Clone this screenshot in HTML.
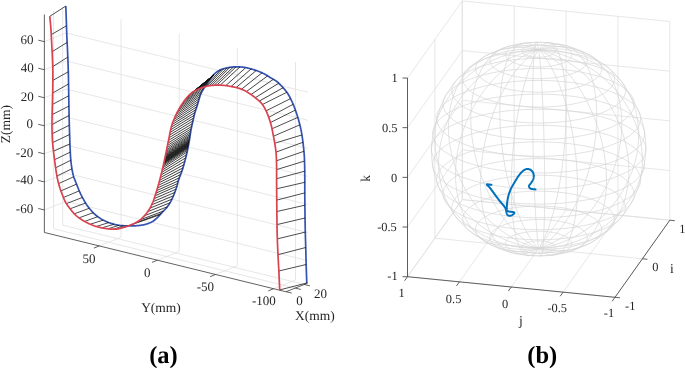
<!DOCTYPE html>
<html><head><meta charset="utf-8"><style>
html,body{margin:0;padding:0;background:#fff;width:685px;height:368px;overflow:hidden}
svg{display:block}
text{font-family:"Liberation Serif",serif;fill:#262626;text-rendering:geometricPrecision}
</style></head><body>
<svg width="685" height="368" viewBox="0 0 685 368">
<defs><filter id="nf" x="0" y="0" width="685" height="368" filterUnits="userSpaceOnUse"><feOffset dx="0" dy="0"/></filter></defs>
<line x1="121.06" y1="237.23" x2="121.06" y2="19.23" stroke="#dcdcdc" stroke-width="0.7"/>
<line x1="179.2" y1="251.5" x2="179.2" y2="33.49" stroke="#dcdcdc" stroke-width="0.7"/>
<line x1="237.34" y1="265.76" x2="237.34" y2="47.76" stroke="#dcdcdc" stroke-width="0.7"/>
<line x1="295.47" y1="280.03" x2="295.47" y2="62.02" stroke="#dcdcdc" stroke-width="0.7"/>
<line x1="307.79" y1="260.55" x2="66.19" y2="201.27" stroke="#dcdcdc" stroke-width="0.7"/>
<line x1="307.79" y1="232.5" x2="66.19" y2="173.22" stroke="#dcdcdc" stroke-width="0.7"/>
<line x1="307.79" y1="204.45" x2="66.19" y2="145.17" stroke="#dcdcdc" stroke-width="0.7"/>
<line x1="307.79" y1="176.4" x2="66.19" y2="117.12" stroke="#dcdcdc" stroke-width="0.7"/>
<line x1="307.79" y1="148.35" x2="66.19" y2="89.07" stroke="#dcdcdc" stroke-width="0.7"/>
<line x1="307.79" y1="120.3" x2="66.19" y2="61.02" stroke="#dcdcdc" stroke-width="0.7"/>
<line x1="307.79" y1="92.25" x2="66.19" y2="32.97" stroke="#dcdcdc" stroke-width="0.7"/>
<line x1="53.59" y1="228.79" x2="53.59" y2="10.79" stroke="#dcdcdc" stroke-width="0.7"/>
<line x1="62.68" y1="225.17" x2="62.68" y2="7.16" stroke="#dcdcdc" stroke-width="0.7"/>
<line x1="44.39" y1="209.97" x2="66.19" y2="201.27" stroke="#dcdcdc" stroke-width="0.7"/>
<line x1="44.39" y1="181.92" x2="66.19" y2="173.22" stroke="#dcdcdc" stroke-width="0.7"/>
<line x1="44.39" y1="153.87" x2="66.19" y2="145.17" stroke="#dcdcdc" stroke-width="0.7"/>
<line x1="44.39" y1="125.82" x2="66.19" y2="117.12" stroke="#dcdcdc" stroke-width="0.7"/>
<line x1="44.39" y1="97.77" x2="66.19" y2="89.07" stroke="#dcdcdc" stroke-width="0.7"/>
<line x1="44.39" y1="69.72" x2="66.19" y2="61.02" stroke="#dcdcdc" stroke-width="0.7"/>
<line x1="44.39" y1="41.67" x2="66.19" y2="32.97" stroke="#dcdcdc" stroke-width="0.7"/>
<line x1="99.27" y1="245.93" x2="121.06" y2="237.23" stroke="#dcdcdc" stroke-width="0.7"/>
<line x1="157.4" y1="260.2" x2="179.2" y2="251.5" stroke="#dcdcdc" stroke-width="0.7"/>
<line x1="215.54" y1="274.46" x2="237.34" y2="265.76" stroke="#dcdcdc" stroke-width="0.7"/>
<line x1="273.67" y1="288.73" x2="295.47" y2="280.03" stroke="#dcdcdc" stroke-width="0.7"/>
<line x1="295.19" y1="288.08" x2="53.59" y2="228.79" stroke="#dcdcdc" stroke-width="0.7"/>
<line x1="304.28" y1="284.45" x2="62.68" y2="225.17" stroke="#dcdcdc" stroke-width="0.7"/>
<line x1="44.39" y1="232.46" x2="44.39" y2="14.46" stroke="#3a3a3a" stroke-width="0.8"/>
<line x1="285.99" y1="291.75" x2="44.39" y2="232.46" stroke="#3a3a3a" stroke-width="0.8"/>
<line x1="285.99" y1="291.75" x2="307.79" y2="283.05" stroke="#3a3a3a" stroke-width="0.8"/>
<line x1="44.39" y1="209.97" x2="38.27" y2="208.47" stroke="#3a3a3a" stroke-width="0.8"/>
<line x1="44.39" y1="181.92" x2="38.27" y2="180.42" stroke="#3a3a3a" stroke-width="0.8"/>
<line x1="44.39" y1="153.87" x2="38.27" y2="152.37" stroke="#3a3a3a" stroke-width="0.8"/>
<line x1="44.39" y1="125.82" x2="38.27" y2="124.32" stroke="#3a3a3a" stroke-width="0.8"/>
<line x1="44.39" y1="97.77" x2="38.27" y2="96.27" stroke="#3a3a3a" stroke-width="0.8"/>
<line x1="44.39" y1="69.72" x2="38.27" y2="68.22" stroke="#3a3a3a" stroke-width="0.8"/>
<line x1="44.39" y1="41.67" x2="38.27" y2="40.17" stroke="#3a3a3a" stroke-width="0.8"/>
<line x1="99.27" y1="245.93" x2="93.88" y2="248.08" stroke="#3a3a3a" stroke-width="0.8"/>
<line x1="157.4" y1="260.2" x2="152.01" y2="262.35" stroke="#3a3a3a" stroke-width="0.8"/>
<line x1="215.54" y1="274.46" x2="210.15" y2="276.61" stroke="#3a3a3a" stroke-width="0.8"/>
<line x1="273.67" y1="288.73" x2="268.28" y2="290.88" stroke="#3a3a3a" stroke-width="0.8"/>
<line x1="286.1" y1="291.71" x2="291.74" y2="293.09" stroke="#3a3a3a" stroke-width="0.8"/>
<line x1="295.19" y1="288.08" x2="300.83" y2="289.46" stroke="#3a3a3a" stroke-width="0.8"/>
<line x1="304.28" y1="284.45" x2="309.92" y2="285.83" stroke="#3a3a3a" stroke-width="0.8"/>
<path d="M65.8,6.1 L65.83,6.92 L65.87,7.97 L65.91,9.21 L65.96,10.61 L66.02,12.11 L66.08,13.69 L66.13,15.31 L66.19,16.93 L66.25,18.5 L66.3,20 L66.35,21.46 L66.4,22.93 L66.44,24.42 L66.49,25.92 L66.54,27.43 L66.59,28.95 L66.64,30.47 L66.69,31.98 L66.74,33.5 L66.8,35 L66.86,36.5 L66.93,38 L67,39.5 L67.07,41 L67.14,42.5 L67.22,44 L67.29,45.5 L67.36,47 L67.43,48.5 L67.5,50 L67.56,51.5 L67.63,53 L67.69,54.5 L67.76,56 L67.82,57.5 L67.88,59 L67.94,60.5 L67.99,62 L68.05,63.5 L68.1,65 L68.15,66.48 L68.19,67.92 L68.24,69.34 L68.28,70.76 L68.32,72.19 L68.36,73.64 L68.39,75.13 L68.43,76.68 L68.46,78.3 L68.5,80 L68.53,81.8 L68.56,83.68 L68.59,85.63 L68.62,87.64 L68.65,89.69 L68.68,91.76 L68.71,93.84 L68.74,95.92 L68.77,97.98 L68.8,100 L68.84,102 L68.87,104 L68.91,106 L68.94,108 L68.98,110 L69.02,112 L69.06,114 L69.11,116 L69.15,118 L69.2,120 L69.25,122.02 L69.31,124.07 L69.36,126.13 L69.42,128.2 L69.48,130.26 L69.54,132.3 L69.61,134.3 L69.67,136.26 L69.74,138.17 L69.8,140 L69.86,141.78 L69.93,143.52 L69.99,145.23 L70.05,146.9 L70.12,148.53 L70.19,150.1 L70.26,151.63 L70.33,153.11 L70.41,154.53 L70.5,155.9 L70.59,157.19 L70.68,158.41 L70.78,159.56 L70.87,160.66 L70.98,161.71 L71.08,162.73 L71.2,163.73 L71.32,164.72 L71.46,165.7 L71.6,166.7 L71.75,167.7 L71.91,168.68 L72.08,169.64 L72.25,170.59 L72.43,171.52 L72.62,172.45 L72.82,173.35 L73.04,174.25 L73.26,175.13 L73.5,176 L73.76,176.85 L74.03,177.69 L74.32,178.51 L74.62,179.32 L74.93,180.11 L75.25,180.9 L75.57,181.68 L75.88,182.45 L76.2,183.23 L76.5,184 L76.8,184.77 L77.09,185.54 L77.38,186.3 L77.68,187.06 L77.97,187.81 L78.26,188.56 L78.56,189.3 L78.87,190.04 L79.18,190.77 L79.5,191.5 L79.83,192.22 L80.16,192.93 L80.49,193.64 L80.83,194.34 L81.17,195.03 L81.53,195.72 L81.88,196.42 L82.25,197.11 L82.62,197.8 L83,198.5 L83.38,199.2 L83.76,199.9 L84.15,200.59 L84.54,201.29 L84.94,201.98 L85.35,202.68 L85.78,203.38 L86.23,204.08 L86.7,204.79 L87.2,205.5 L87.73,206.23 L88.3,206.98 L88.89,207.74 L89.5,208.51 L90.13,209.28 L90.77,210.03 L91.41,210.77 L92.05,211.48 L92.68,212.16 L93.3,212.8 L93.9,213.4 L94.5,213.96 L95.09,214.5 L95.68,215.01 L96.27,215.51 L96.87,215.98 L97.47,216.45 L98.1,216.9 L98.74,217.35 L99.4,217.8 L100.08,218.25 L100.78,218.68 L101.49,219.11 L102.21,219.53 L102.95,219.94 L103.7,220.33 L104.46,220.72 L105.23,221.09 L106.01,221.45 L106.8,221.8 L107.61,222.14 L108.46,222.47 L109.33,222.78 L110.21,223.09 L111.09,223.39 L111.98,223.67 L112.85,223.93 L113.7,224.17 L114.52,224.4 L115.3,224.6 L116.04,224.78 L116.76,224.93 L117.45,225.06 L118.11,225.17 L118.77,225.26 L119.41,225.34 L120.05,225.42 L120.7,225.48 L121.34,225.54 L122,225.6 L122.66,225.65 L123.32,225.69 L123.98,225.73 L124.64,225.75 L125.29,225.76 L125.95,225.77 L126.61,225.78 L127.27,225.79 L127.93,225.79 L128.6,225.8 L129.27,225.81 L129.95,225.82 L130.63,225.84 L131.31,225.85 L131.99,225.86 L132.67,225.86 L133.35,225.86 L134.04,225.85 L134.72,225.83 L135.4,225.8 L136.09,225.76 L136.8,225.71 L137.51,225.65 L138.23,225.59 L138.94,225.52 L139.65,225.44 L140.33,225.36 L140.99,225.28 L141.61,225.19 L142.2,225.1 L142.75,225.01 L143.26,224.91 L143.74,224.81 L144.2,224.7 L144.64,224.59 L145.06,224.48 L145.47,224.36 L145.88,224.25 L146.29,224.12 L146.7,224 L147.11,223.88 L147.51,223.75 L147.9,223.62 L148.28,223.5 L148.66,223.36 L149.04,223.22 L149.4,223.08 L149.77,222.93 L150.14,222.77 L150.5,222.6 L150.86,222.42 L151.22,222.23 L151.58,222.04 L151.94,221.84 L152.29,221.63 L152.64,221.42 L152.98,221.2 L153.32,220.97 L153.66,220.74 L154,220.5 L154.33,220.26 L154.66,220.01 L154.99,219.75 L155.31,219.49 L155.63,219.22 L155.95,218.94 L156.26,218.67 L156.58,218.38 L156.89,218.09 L157.2,217.8 L157.51,217.5 L157.81,217.2 L158.11,216.88 L158.41,216.57 L158.71,216.24 L159,215.92 L159.3,215.59 L159.6,215.26 L159.9,214.93 L160.2,214.6 L160.5,214.27 L160.81,213.94 L161.11,213.6 L161.42,213.26 L161.72,212.92 L162.03,212.58 L162.34,212.24 L162.66,211.9 L162.98,211.55 L163.3,211.2 L163.63,210.85 L163.96,210.51 L164.3,210.17 L164.64,209.83 L164.99,209.48 L165.33,209.13 L165.68,208.77 L166.02,208.39 L166.36,208.01 L166.7,207.6 L167.04,207.18 L167.37,206.75 L167.71,206.31 L168.05,205.85 L168.38,205.39 L168.71,204.91 L169.04,204.43 L169.37,203.93 L169.69,203.42 L170,202.9 L170.31,202.36 L170.62,201.81 L170.92,201.24 L171.22,200.65 L171.51,200.06 L171.8,199.47 L172.09,198.87 L172.36,198.27 L172.64,197.68 L172.9,197.1 L173.16,196.53 L173.4,195.95 L173.65,195.38 L173.88,194.81 L174.11,194.24 L174.34,193.68 L174.56,193.11 L174.78,192.54 L174.99,191.97 L175.2,191.4 L175.41,190.83 L175.61,190.26 L175.81,189.69 L176.01,189.12 L176.2,188.55 L176.39,187.98 L176.57,187.41 L176.75,186.84 L176.93,186.27 L177.1,185.7 L177.26,185.15 L177.39,184.63 L177.51,184.13 L177.62,183.63 L177.74,183.12 L177.86,182.59 L178,182.03 L178.17,181.42 L178.36,180.74 L178.6,180 L178.89,179.16 L179.22,178.23 L179.6,177.23 L179.99,176.18 L180.41,175.11 L180.82,174.02 L181.23,172.94 L181.62,171.9 L181.98,170.91 L182.3,170 L182.58,169.17 L182.83,168.41 L183.05,167.7 L183.26,167.02 L183.46,166.36 L183.66,165.69 L183.85,165 L184.05,164.26 L184.27,163.47 L184.5,162.6 L184.75,161.65 L185.02,160.64 L185.29,159.58 L185.57,158.49 L185.86,157.36 L186.14,156.22 L186.42,155.07 L186.69,153.93 L186.95,152.8 L187.2,151.7 L187.44,150.62 L187.66,149.54 L187.89,148.46 L188.1,147.38 L188.31,146.3 L188.52,145.22 L188.72,144.14 L188.92,143.06 L189.11,141.98 L189.3,140.9 L189.49,139.8 L189.67,138.67 L189.84,137.53 L190.01,136.38 L190.18,135.24 L190.35,134.11 L190.51,133.02 L190.67,131.96 L190.84,130.95 L191,130 L191.16,129.13 L191.32,128.33 L191.47,127.59 L191.62,126.89 L191.77,126.21 L191.92,125.54 L192.08,124.86 L192.24,124.16 L192.42,123.41 L192.6,122.6 L192.79,121.73 L193,120.81 L193.2,119.86 L193.42,118.88 L193.64,117.89 L193.86,116.9 L194.09,115.91 L194.32,114.94 L194.56,114 L194.8,113.1 L195.04,112.24 L195.29,111.4 L195.55,110.59 L195.81,109.79 L196.08,109.01 L196.34,108.22 L196.61,107.44 L196.87,106.64 L197.14,105.83 L197.4,105 L197.66,104.13 L197.93,103.21 L198.21,102.27 L198.48,101.31 L198.75,100.36 L199.02,99.43 L199.28,98.53 L199.53,97.68 L199.77,96.9 L200,96.2 L200.21,95.58 L200.41,95.03 L200.6,94.54 L200.78,94.09 L200.95,93.69 L201.12,93.31 L201.29,92.95 L201.45,92.6 L201.62,92.26 L201.8,91.9 L201.98,91.55 L202.16,91.22 L202.34,90.9 L202.52,90.61 L202.71,90.32 L202.89,90.04 L203.07,89.76 L203.25,89.48 L203.42,89.19 L203.6,88.9 L203.77,88.6 L203.94,88.31 L204.1,88.02 L204.25,87.72 L204.41,87.43 L204.57,87.14 L204.74,86.84 L204.92,86.53 L205.1,86.22 L205.3,85.9 L205.51,85.57 L205.73,85.24 L205.95,84.91 L206.18,84.57 L206.42,84.23 L206.66,83.87 L206.91,83.52 L207.17,83.15 L207.43,82.78 L207.7,82.4 L207.98,82 L208.27,81.59 L208.57,81.15 L208.88,80.71 L209.19,80.27 L209.5,79.83 L209.81,79.39 L210.12,78.97 L210.41,78.57 L210.7,78.2 L210.97,77.85 L211.23,77.53 L211.47,77.22 L211.72,76.93 L211.96,76.65 L212.2,76.37 L212.45,76.09 L212.72,75.81 L213,75.51 L213.3,75.2 L213.62,74.87 L213.95,74.53 L214.29,74.18 L214.64,73.83 L215,73.47 L215.37,73.12 L215.76,72.77 L216.16,72.44 L216.57,72.11 L217,71.8 L217.44,71.5 L217.9,71.21 L218.37,70.93 L218.86,70.65 L219.36,70.38 L219.87,70.12 L220.39,69.87 L220.92,69.64 L221.45,69.41 L222,69.2 L222.57,69 L223.19,68.81 L223.83,68.64 L224.49,68.47 L225.14,68.32 L225.79,68.18 L226.41,68.04 L227,67.92 L227.53,67.8 L228,67.7 L228.39,67.61 L228.69,67.53 L228.93,67.47 L229.14,67.42 L229.32,67.38 L229.5,67.34 L229.71,67.31 L229.97,67.28 L230.29,67.24 L230.7,67.2 L231.19,67.15 L231.74,67.1 L232.34,67.04 L232.98,66.98 L233.66,66.93 L234.35,66.88 L235.06,66.84 L235.78,66.81 L236.5,66.8 L237.2,66.8 L237.91,66.82 L238.64,66.84 L239.38,66.88 L240.14,66.92 L240.9,66.98 L241.66,67.05 L242.42,67.12 L243.16,67.21 L243.89,67.3 L244.6,67.4 L245.29,67.51 L245.96,67.63 L246.62,67.76 L247.26,67.91 L247.91,68.06 L248.54,68.21 L249.18,68.38 L249.81,68.55 L250.45,68.72 L251.1,68.9 L251.75,69.08 L252.4,69.27 L253.05,69.46 L253.7,69.66 L254.35,69.87 L255,70.08 L255.65,70.3 L256.3,70.53 L256.95,70.76 L257.6,71 L258.25,71.25 L258.9,71.5 L259.55,71.75 L260.2,72.01 L260.84,72.28 L261.49,72.56 L262.14,72.85 L262.79,73.15 L263.45,73.47 L264.1,73.8 L264.76,74.15 L265.42,74.53 L266.09,74.92 L266.76,75.33 L267.43,75.74 L268.09,76.16 L268.75,76.58 L269.41,77 L270.06,77.41 L270.7,77.8 L271.33,78.17 L271.96,78.53 L272.58,78.88 L273.2,79.22 L273.81,79.56 L274.41,79.9 L275.02,80.27 L275.61,80.65 L276.21,81.06 L276.8,81.5 L277.39,81.97 L277.97,82.47 L278.56,82.99 L279.13,83.52 L279.71,84.08 L280.28,84.64 L280.84,85.22 L281.4,85.81 L281.95,86.4 L282.5,87 L283.05,87.6 L283.59,88.22 L284.13,88.84 L284.67,89.47 L285.2,90.11 L285.72,90.77 L286.24,91.43 L286.74,92.11 L287.23,92.8 L287.7,93.5 L288.16,94.22 L288.6,94.96 L289.04,95.71 L289.46,96.47 L289.87,97.25 L290.27,98.03 L290.66,98.82 L291.05,99.62 L291.43,100.41 L291.8,101.2 L292.16,101.99 L292.51,102.77 L292.85,103.55 L293.18,104.33 L293.51,105.12 L293.83,105.92 L294.14,106.73 L294.46,107.56 L294.78,108.42 L295.1,109.3 L295.43,110.21 L295.76,111.15 L296.09,112.12 L296.42,113.1 L296.75,114.09 L297.08,115.1 L297.39,116.11 L297.71,117.11 L298.01,118.11 L298.3,119.1 L298.58,120.08 L298.86,121.07 L299.13,122.06 L299.39,123.05 L299.65,124.04 L299.9,125.03 L300.14,126.01 L300.37,126.98 L300.59,127.95 L300.8,128.9 L301,129.84 L301.19,130.77 L301.36,131.68 L301.53,132.6 L301.69,133.5 L301.84,134.4 L301.99,135.3 L302.13,136.2 L302.26,137.1 L302.4,138 L302.53,138.9 L302.66,139.81 L302.78,140.71 L302.89,141.61 L303,142.51 L303.11,143.4 L303.21,144.3 L303.31,145.2 L303.4,146.1 L303.5,147 L303.59,147.89 L303.69,148.76 L303.77,149.62 L303.86,150.48 L303.94,151.34 L304.02,152.21 L304.1,153.11 L304.17,154.03 L304.24,154.99 L304.3,156 L304.36,157.05 L304.41,158.13 L304.46,159.24 L304.5,160.38 L304.54,161.54 L304.58,162.73 L304.61,163.93 L304.65,165.14 L304.67,166.37 L304.7,167.6 L304.72,168.84 L304.74,170.1 L304.76,171.38 L304.77,172.67 L304.77,173.98 L304.78,175.3 L304.79,176.63 L304.79,177.98 L304.8,179.33 L304.8,180.7 L304.8,182.06 L304.8,183.39 L304.8,184.72 L304.8,186.06 L304.79,187.42 L304.79,188.81 L304.79,190.25 L304.79,191.76 L304.79,193.33 L304.8,195 L304.81,196.78 L304.83,198.68 L304.84,200.68 L304.86,202.73 L304.88,204.83 L304.9,206.94 L304.93,209.04 L304.95,211.1 L304.98,213.1 L305,215 L305.03,216.82 L305.05,218.58 L305.08,220.29 L305.1,221.97 L305.13,223.62 L305.16,225.27 L305.19,226.92 L305.23,228.58 L305.26,230.27 L305.3,232 L305.34,233.77 L305.39,235.57 L305.44,237.39 L305.49,239.22 L305.54,241.06 L305.6,242.9 L305.65,244.72 L305.7,246.51 L305.75,248.28 L305.8,250 L305.84,251.68 L305.88,253.31 L305.92,254.92 L305.96,256.5 L305.99,258.06 L306.03,259.62 L306.07,261.19 L306.11,262.77 L306.15,264.37 L306.2,266 L306.25,267.74 L306.32,269.61 L306.38,271.56 L306.45,273.54 L306.52,275.5 L306.59,277.38 L306.66,279.12 L306.72,280.67 L306.76,281.98 L306.8,283" stroke="#3553b0" stroke-width="1.7" fill="none" stroke-linejoin="round"/>
<path d="M49.8,16.3L65.8,6.1 M51.27,34.64L66.49,25.79 M52.14,51.73L67.14,42.39 M52.73,66.61L67.8,57.1 M52.84,80.4L68.31,71.79 M52.66,92.99L68.57,83.99 M52.38,104.49L68.73,95.79 M52.11,114.6L68.91,106.1 M51.98,124.7L69.09,115.4 M52.13,133.8L69.34,125.21 M52.58,142.61L69.61,134.52 M53.44,151.25L69.94,143.93 M54.52,159.74L70.28,152.11 M55.62,167.84L70.83,160.22 M56.91,176.02L71.93,168.76 M58.62,183.62L73.72,176.73 M60.91,190.9L76.55,184.12 M63.41,197.48L79.23,190.89 M66.42,203.64L82.43,197.44 M70.11,208.8L85.55,203.01 M74.34,213.83L89.29,208.25 M79.04,217.85L93.2,212.7 M84.65,221.46L97.75,216.65 M90.2,224.23L103.28,220.11 M96.29,226.48L108.78,222.59 M101.87,227.85L114.08,224.28 M108.01,228.82L119,225.29 M114.1,229.14L123.3,225.69 M119.49,228.56L126.6,225.78 M124.38,227.16L128.3,225.8 M262.41,104.49L286.84,92.25 M266.1,110.81L290.56,98.62 M268.73,117.31L293.16,104.27 M270.43,122.52L295.39,110.1 M272.01,128.77L297.8,117.41 M273.47,136.21L299.85,124.84 M274.75,143.24L301.93,134.95 M275.99,152.13L302.97,142.27 M276.47,160.81L303.94,151.28 M276.62,169.6L304.53,161.09 M276.6,178.7L304.75,171.19 M276.65,188.8L304.8,182.3 M276.75,200.1L304.79,192.9 M276.86,211.5L304.89,205.19 M277.01,224.6L305.04,218 M277.32,238.89L305.3,232.1 M277.99,254.71L305.73,247.5 M278.85,271L306.16,264.5 M279.7,289.9L306.8,283" stroke="#111" stroke-width="0.75" fill="none"/>
<path d="M129.55,225.43L160.15,214.66 M135.05,223.03L161.24,213.46 M140.12,219.84L163.49,211 M144.48,215.73L167.35,206.77 M147.63,211.76L170.1,202.72 M149.91,208.2L171.95,199.16 M151.67,204.84L173.51,195.71 M153.02,201.7L174.81,192.44 M154.11,198.67L175.97,189.24 M155.09,195.73L176.96,186.16 M155.93,193.17L177.64,183.55 M156.73,190.59L178.32,180.9 M157.49,188L179.38,177.82 M158.24,185.4L180.63,174.53 M158.96,182.8L181.88,171.2 M159.66,180.19L182.99,167.89 M160.34,177.58L183.95,164.64 M161.01,174.96L184.87,161.2 M161.64,172.45L185.73,157.86 M162.22,170.09L186.5,154.74 M162.73,167.94L187.15,151.91 M163.13,166.21L187.55,150.09 M163.44,164.82L187.83,148.72 M163.66,163.8L188.03,147.71 M163.82,163.07L188.18,147 M163.94,162.52L188.28,146.45 M164.06,161.96L188.39,145.9 M164.18,161.4L188.49,145.35 M164.29,160.84L188.6,144.8 M164.41,160.29L188.7,144.26 M164.53,159.73L188.8,143.71 M164.64,159.17L188.9,143.17 M164.76,158.62L188.99,142.62 M164.87,158.06L189.09,142.08 M165,157.47L189.19,141.5 M165.14,156.78L189.31,140.82 M165.31,155.98L189.44,140.04 M165.5,155.05L189.59,139.15 M165.72,153.98L189.75,138.12 M165.98,152.74L189.93,136.96 M166.28,151.29L190.11,135.75 M166.63,149.62L190.31,134.36 M167.02,147.68L190.55,132.74 M167.48,145.46L190.85,130.86 M167.98,143.03L191.23,128.77 M168.52,140.39L191.72,126.45 M169.05,137.74L192.35,123.68 M169.55,135.09L192.98,120.87 M170.06,132.44L193.6,118.07 M170.61,129.79L194.24,115.28 M171.25,127.17L194.96,112.53 M172.03,124.59L195.84,109.7 M172.92,122.04L196.83,106.77 M173.92,119.53L197.69,104.02 M174.97,117.04L198.45,101.41 M176.08,114.58L199.17,98.9 M177.28,112.16L199.91,96.49 M178.56,109.78L200.78,94.1 M179.91,107.45L201.97,91.57 M181.33,105.15L203.74,88.66 M182.82,102.9L205.22,86.04 M184.37,100.69L207.17,83.15 M186.03,98.56L213.8,75 M186.93,97.49L213.8,75 M187.87,96.45L213.8,75 M188.85,95.45L213.8,75 M189.86,94.48L213.8,75 M190.91,93.56L213.8,75 M192.02,92.7L213.8,75 M193.16,91.89L213.8,75 M194.36,91.16L213.8,75 M195.59,90.49L213.8,75 M196.84,89.87L213.8,75 M198.11,89.29L213.8,75 M199.4,88.73L213.8,75 M200.7,88.21L213.8,75 M202.01,87.73L213.8,75 M203.34,87.28L213.8,75 M205.5,86.6L220.93,69.63 M207.2,86.14L223.88,68.62 M209.4,85.72L227.25,67.86 M211.8,85.43L229.95,67.28 M214.2,85.24L233.45,66.95 M216.8,85.12L236.07,66.81 M220.2,85.14L240,66.92 M225.8,85.6L245.79,67.6 M231.1,86.52L251.12,68.91 M236.2,87.52L256.22,70.5 M241.5,89.22L262.02,72.8 M246.4,91.59L267.63,75.87 M251,94.53L273.38,79.32 M255.3,97.72L278.76,83.18 M259.3,101.07L283.14,87.71" stroke="#111" stroke-width="0.8" fill="none"/>
<path d="M49.8,16.3 L49.87,17.12 L49.97,18.19 L50.09,19.46 L50.22,20.88 L50.36,22.4 L50.51,23.98 L50.65,25.58 L50.78,27.15 L50.9,28.64 L51,30 L51.08,31.26 L51.16,32.49 L51.22,33.69 L51.28,34.87 L51.33,36.04 L51.38,37.21 L51.43,38.38 L51.48,39.56 L51.54,40.77 L51.6,42 L51.67,43.25 L51.74,44.5 L51.81,45.76 L51.88,47.03 L51.96,48.31 L52.03,49.61 L52.1,50.92 L52.17,52.26 L52.24,53.61 L52.3,55 L52.36,56.42 L52.42,57.87 L52.48,59.35 L52.54,60.86 L52.59,62.38 L52.65,63.9 L52.69,65.44 L52.74,66.97 L52.77,68.49 L52.8,70 L52.82,71.5 L52.84,73 L52.85,74.5 L52.85,76 L52.85,77.5 L52.85,79 L52.84,80.5 L52.83,82 L52.81,83.5 L52.8,85 L52.78,86.5 L52.76,88 L52.74,89.5 L52.71,91 L52.67,92.5 L52.64,94 L52.61,95.5 L52.57,97 L52.54,98.5 L52.5,100 L52.46,101.51 L52.42,103.03 L52.38,104.56 L52.33,106.1 L52.29,107.62 L52.24,109.14 L52.2,110.65 L52.16,112.13 L52.13,113.58 L52.1,115 L52.08,116.39 L52.05,117.74 L52.03,119.08 L52.01,120.39 L52,121.69 L51.99,122.97 L51.98,124.24 L51.98,125.5 L51.99,126.75 L52,128 L52.02,129.25 L52.04,130.5 L52.07,131.74 L52.1,132.97 L52.14,134.19 L52.18,135.39 L52.23,136.58 L52.28,137.74 L52.34,138.89 L52.4,140 L52.47,141.09 L52.55,142.16 L52.63,143.21 L52.72,144.24 L52.81,145.25 L52.91,146.24 L53.01,147.21 L53.11,148.16 L53.2,149.09 L53.3,150 L53.4,150.88 L53.49,151.71 L53.59,152.52 L53.68,153.3 L53.78,154.06 L53.88,154.82 L53.98,155.59 L54.09,156.37 L54.19,157.17 L54.3,158 L54.41,158.86 L54.52,159.73 L54.64,160.61 L54.75,161.5 L54.87,162.41 L54.99,163.32 L55.11,164.23 L55.24,165.15 L55.37,166.08 L55.5,167 L55.64,167.93 L55.77,168.88 L55.91,169.84 L56.05,170.81 L56.2,171.78 L56.35,172.75 L56.5,173.71 L56.66,174.66 L56.83,175.59 L57,176.5 L57.18,177.4 L57.36,178.28 L57.55,179.16 L57.74,180.02 L57.94,180.88 L58.14,181.72 L58.35,182.56 L58.56,183.38 L58.78,184.19 L59,185 L59.22,185.78 L59.45,186.54 L59.68,187.28 L59.91,188 L60.14,188.72 L60.39,189.44 L60.65,190.17 L60.92,190.92 L61.2,191.69 L61.5,192.5 L61.82,193.35 L62.15,194.24 L62.5,195.17 L62.86,196.11 L63.24,197.06 L63.62,198.01 L64.01,198.94 L64.4,199.84 L64.8,200.69 L65.2,201.5 L65.6,202.25 L66,202.96 L66.41,203.63 L66.82,204.28 L67.24,204.91 L67.66,205.52 L68.1,206.13 L68.55,206.74 L69.02,207.36 L69.5,208 L70,208.66 L70.51,209.33 L71.04,210 L71.58,210.68 L72.14,211.36 L72.7,212.02 L73.27,212.67 L73.84,213.31 L74.42,213.92 L75,214.5 L75.59,215.05 L76.18,215.59 L76.79,216.11 L77.4,216.6 L78.01,217.09 L78.63,217.56 L79.25,218.01 L79.87,218.45 L80.49,218.88 L81.1,219.3 L81.71,219.71 L82.32,220.1 L82.93,220.47 L83.54,220.83 L84.15,221.18 L84.76,221.52 L85.37,221.85 L85.98,222.17 L86.59,222.49 L87.2,222.8 L87.81,223.11 L88.42,223.41 L89.03,223.7 L89.64,223.98 L90.25,224.26 L90.86,224.52 L91.47,224.78 L92.08,225.03 L92.69,225.27 L93.3,225.5 L93.91,225.72 L94.52,225.93 L95.13,226.13 L95.74,226.31 L96.34,226.49 L96.95,226.67 L97.56,226.83 L98.17,226.99 L98.79,227.15 L99.4,227.3 L100.02,227.45 L100.64,227.59 L101.26,227.72 L101.88,227.85 L102.5,227.98 L103.12,228.09 L103.74,228.2 L104.36,228.31 L104.98,228.41 L105.6,228.5 L106.21,228.59 L106.83,228.67 L107.44,228.75 L108.05,228.82 L108.66,228.89 L109.26,228.95 L109.87,229 L110.48,229.04 L111.09,229.08 L111.7,229.1 L112.31,229.12 L112.92,229.13 L113.53,229.14 L114.14,229.14 L114.75,229.14 L115.36,229.12 L115.97,229.09 L116.58,229.04 L117.19,228.98 L117.8,228.9 L118.42,228.8 L119.04,228.67 L119.67,228.52 L120.31,228.36 L120.94,228.18 L121.56,228 L122.17,227.82 L122.77,227.64 L123.35,227.46 L123.9,227.3 L124.42,227.15 L124.9,227.01 L125.36,226.88 L125.79,226.76 L126.23,226.62 L126.66,226.49 L127.1,226.34 L127.57,226.18 L128.06,226 L128.6,225.8 L129.18,225.58 L129.8,225.34 L130.44,225.08 L131.11,224.82 L131.79,224.54 L132.47,224.25 L133.15,223.95 L133.82,223.64 L134.47,223.32 L135.1,223 L135.71,222.67 L136.3,222.34 L136.89,222 L137.48,221.65 L138.05,221.29 L138.62,220.92 L139.17,220.53 L139.72,220.14 L140.27,219.73 L140.8,219.3 L141.33,218.86 L141.84,218.4 L142.35,217.92 L142.86,217.44 L143.35,216.94 L143.84,216.43 L144.31,215.91 L144.78,215.38 L145.25,214.84 L145.7,214.3 L146.15,213.75 L146.59,213.18 L147.03,212.6 L147.46,212 L147.88,211.41 L148.28,210.8 L148.68,210.2 L149.07,209.59 L149.44,208.99 L149.8,208.4 L150.14,207.81 L150.47,207.23 L150.78,206.65 L151.08,206.07 L151.36,205.49 L151.64,204.9 L151.91,204.31 L152.18,203.72 L152.44,203.11 L152.7,202.5 L152.96,201.87 L153.2,201.23 L153.45,200.58 L153.68,199.92 L153.91,199.26 L154.14,198.59 L154.36,197.93 L154.58,197.28 L154.79,196.63 L155,196 L155.2,195.39 L155.39,194.82 L155.58,194.26 L155.76,193.72 L155.93,193.17 L156.11,192.61 L156.29,192.02 L156.48,191.4 L156.68,190.73 L156.9,190 L157.13,189.23 L157.36,188.44 L157.6,187.61 L157.85,186.76 L158.11,185.87 L158.37,184.95 L158.64,183.98 L158.92,182.97 L159.2,181.91 L159.5,180.8 L159.81,179.62 L160.14,178.36 L160.48,177.04 L160.83,175.68 L161.18,174.28 L161.54,172.85 L161.89,171.42 L162.24,169.99 L162.58,168.58 L162.9,167.2 L163.21,165.84 L163.51,164.48 L163.81,163.12 L164.1,161.76 L164.39,160.4 L164.67,159.04 L164.95,157.68 L165.23,156.32 L165.52,154.96 L165.8,153.6 L166.08,152.24 L166.37,150.87 L166.65,149.5 L166.93,148.13 L167.21,146.76 L167.49,145.4 L167.77,144.04 L168.05,142.68 L168.32,141.34 L168.6,140 L168.87,138.66 L169.13,137.31 L169.39,135.96 L169.64,134.6 L169.9,133.26 L170.16,131.94 L170.43,130.65 L170.7,129.39 L170.99,128.17 L171.3,127 L171.62,125.88 L171.95,124.81 L172.3,123.77 L172.65,122.77 L173.01,121.8 L173.38,120.85 L173.75,119.92 L174.13,119.01 L174.52,118.1 L174.9,117.2 L175.29,116.31 L175.67,115.45 L176.06,114.61 L176.46,113.79 L176.86,112.97 L177.27,112.17 L177.69,111.38 L178.11,110.59 L178.55,109.8 L179,109 L179.47,108.19 L179.95,107.38 L180.45,106.55 L180.96,105.74 L181.47,104.92 L181.99,104.13 L182.51,103.35 L183.02,102.6 L183.52,101.88 L184,101.2 L184.47,100.56 L184.93,99.94 L185.39,99.35 L185.84,98.79 L186.28,98.25 L186.72,97.73 L187.17,97.23 L187.61,96.74 L188.05,96.26 L188.5,95.8 L188.95,95.35 L189.39,94.92 L189.82,94.51 L190.26,94.12 L190.7,93.74 L191.14,93.37 L191.59,93.02 L192.05,92.67 L192.52,92.33 L193,92 L193.5,91.68 L194,91.36 L194.52,91.06 L195.05,90.77 L195.58,90.49 L196.12,90.22 L196.66,89.96 L197.21,89.7 L197.75,89.45 L198.3,89.2 L198.85,88.96 L199.4,88.72 L199.96,88.5 L200.52,88.28 L201.08,88.06 L201.65,87.86 L202.21,87.66 L202.78,87.46 L203.34,87.28 L203.9,87.1 L204.45,86.93 L204.98,86.76 L205.5,86.6 L206.02,86.45 L206.54,86.31 L207.08,86.17 L207.64,86.04 L208.22,85.92 L208.84,85.8 L209.5,85.7 L210.21,85.6 L210.97,85.51 L211.77,85.43 L212.59,85.35 L213.44,85.29 L214.29,85.23 L215.14,85.18 L215.98,85.14 L216.81,85.12 L217.6,85.1 L218.37,85.1 L219.14,85.1 L219.9,85.12 L220.65,85.15 L221.4,85.19 L222.14,85.24 L222.87,85.3 L223.59,85.36 L224.3,85.43 L225,85.5 L225.69,85.58 L226.36,85.67 L227.02,85.77 L227.66,85.88 L228.31,85.99 L228.94,86.1 L229.58,86.23 L230.21,86.35 L230.85,86.47 L231.5,86.6 L232.15,86.72 L232.8,86.84 L233.45,86.96 L234.1,87.08 L234.74,87.21 L235.39,87.34 L236.04,87.48 L236.69,87.64 L237.35,87.81 L238,88 L238.66,88.21 L239.32,88.42 L239.98,88.65 L240.64,88.89 L241.3,89.14 L241.96,89.4 L242.62,89.68 L243.28,89.97 L243.94,90.28 L244.6,90.6 L245.26,90.94 L245.93,91.32 L246.61,91.71 L247.28,92.11 L247.96,92.53 L248.62,92.95 L249.27,93.38 L249.9,93.8 L250.52,94.21 L251.1,94.6 L251.65,94.98 L252.17,95.34 L252.67,95.69 L253.15,96.04 L253.62,96.39 L254.08,96.75 L254.54,97.11 L255.01,97.49 L255.5,97.88 L256,98.3 L256.53,98.73 L257.07,99.18 L257.62,99.63 L258.19,100.1 L258.75,100.58 L259.31,101.07 L259.86,101.58 L260.4,102.1 L260.91,102.64 L261.4,103.2 L261.87,103.77 L262.32,104.36 L262.75,104.96 L263.17,105.58 L263.58,106.21 L263.98,106.86 L264.37,107.52 L264.75,108.2 L265.13,108.89 L265.5,109.6 L265.87,110.33 L266.22,111.08 L266.57,111.85 L266.92,112.64 L267.25,113.44 L267.58,114.25 L267.89,115.06 L268.2,115.88 L268.51,116.69 L268.8,117.5 L269.09,118.31 L269.36,119.12 L269.63,119.94 L269.9,120.76 L270.15,121.59 L270.4,122.41 L270.63,123.24 L270.86,124.06 L271.09,124.88 L271.3,125.7 L271.5,126.5 L271.69,127.28 L271.86,128.05 L272.02,128.81 L272.18,129.58 L272.34,130.36 L272.49,131.16 L272.65,132 L272.82,132.87 L273,133.8 L273.19,134.79 L273.39,135.83 L273.6,136.92 L273.82,138.05 L274.03,139.19 L274.24,140.35 L274.45,141.5 L274.65,142.63 L274.83,143.74 L275,144.8 L275.16,145.81 L275.3,146.79 L275.44,147.73 L275.58,148.65 L275.7,149.58 L275.82,150.51 L275.92,151.46 L276.02,152.45 L276.12,153.5 L276.2,154.6 L276.27,155.77 L276.34,156.99 L276.39,158.26 L276.44,159.56 L276.48,160.89 L276.51,162.24 L276.53,163.59 L276.56,164.94 L276.58,166.28 L276.6,167.6 L276.62,168.9 L276.62,170.19 L276.63,171.48 L276.62,172.78 L276.62,174.07 L276.61,175.37 L276.61,176.68 L276.6,178 L276.6,179.34 L276.6,180.7 L276.61,182.06 L276.61,183.39 L276.62,184.72 L276.63,186.06 L276.64,187.42 L276.65,188.81 L276.66,190.25 L276.67,191.76 L276.69,193.33 L276.7,195 L276.72,196.77 L276.73,198.64 L276.75,200.58 L276.77,202.59 L276.79,204.64 L276.81,206.73 L276.83,208.82 L276.85,210.91 L276.88,212.97 L276.9,215 L276.92,217 L276.95,219 L276.97,221 L276.99,223 L277.01,225 L277.04,227 L277.07,229 L277.11,231 L277.15,233 L277.2,235 L277.26,237.02 L277.33,239.08 L277.4,241.16 L277.48,243.24 L277.57,245.31 L277.66,247.36 L277.74,249.37 L277.83,251.32 L277.92,253.2 L278,255 L278.08,256.68 L278.16,258.24 L278.24,259.71 L278.32,261.12 L278.39,262.51 L278.47,263.89 L278.55,265.3 L278.63,266.77 L278.72,268.32 L278.8,270 L278.89,271.88 L278.99,273.98 L279.09,276.24 L279.2,278.56 L279.3,280.89 L279.4,283.14 L279.49,285.24 L279.58,287.12 L279.65,288.69 L279.7,289.9" stroke="#d9434f" stroke-width="1.7" fill="none" stroke-linejoin="round"/>
<line x1="462.3" y1="199.6" x2="462.3" y2="0.9" stroke="#dcdcdc" stroke-width="0.7"/>
<line x1="514.17" y1="204.75" x2="514.17" y2="6.05" stroke="#dcdcdc" stroke-width="0.7"/>
<line x1="566.05" y1="209.9" x2="566.05" y2="11.2" stroke="#dcdcdc" stroke-width="0.7"/>
<line x1="617.92" y1="215.05" x2="617.92" y2="16.35" stroke="#dcdcdc" stroke-width="0.7"/>
<line x1="669.8" y1="220.2" x2="669.8" y2="21.5" stroke="#dcdcdc" stroke-width="0.7"/>
<line x1="669.8" y1="21.5" x2="462.3" y2="0.9" stroke="#dcdcdc" stroke-width="0.7"/>
<line x1="669.8" y1="71.17" x2="462.3" y2="50.58" stroke="#dcdcdc" stroke-width="0.7"/>
<line x1="669.8" y1="120.85" x2="462.3" y2="100.25" stroke="#dcdcdc" stroke-width="0.7"/>
<line x1="669.8" y1="170.52" x2="462.3" y2="149.93" stroke="#dcdcdc" stroke-width="0.7"/>
<line x1="669.8" y1="220.2" x2="462.3" y2="199.6" stroke="#dcdcdc" stroke-width="0.7"/>
<line x1="407.5" y1="276.7" x2="407.5" y2="78" stroke="#dcdcdc" stroke-width="0.7"/>
<line x1="434.9" y1="238.15" x2="434.9" y2="39.45" stroke="#dcdcdc" stroke-width="0.7"/>
<line x1="462.3" y1="199.6" x2="462.3" y2="0.9" stroke="#dcdcdc" stroke-width="0.7"/>
<line x1="407.5" y1="78" x2="462.3" y2="0.9" stroke="#dcdcdc" stroke-width="0.7"/>
<line x1="407.5" y1="127.67" x2="462.3" y2="50.58" stroke="#dcdcdc" stroke-width="0.7"/>
<line x1="407.5" y1="177.35" x2="462.3" y2="100.25" stroke="#dcdcdc" stroke-width="0.7"/>
<line x1="407.5" y1="227.02" x2="462.3" y2="149.93" stroke="#dcdcdc" stroke-width="0.7"/>
<line x1="407.5" y1="276.7" x2="462.3" y2="199.6" stroke="#dcdcdc" stroke-width="0.7"/>
<line x1="407.5" y1="276.7" x2="462.3" y2="199.6" stroke="#dcdcdc" stroke-width="0.7"/>
<line x1="459.38" y1="281.85" x2="514.17" y2="204.75" stroke="#dcdcdc" stroke-width="0.7"/>
<line x1="511.25" y1="287" x2="566.05" y2="209.9" stroke="#dcdcdc" stroke-width="0.7"/>
<line x1="563.12" y1="292.15" x2="617.92" y2="215.05" stroke="#dcdcdc" stroke-width="0.7"/>
<line x1="615" y1="297.3" x2="669.8" y2="220.2" stroke="#dcdcdc" stroke-width="0.7"/>
<line x1="615" y1="297.3" x2="407.5" y2="276.7" stroke="#dcdcdc" stroke-width="0.7"/>
<line x1="642.4" y1="258.75" x2="434.9" y2="238.15" stroke="#dcdcdc" stroke-width="0.7"/>
<line x1="669.8" y1="220.2" x2="462.3" y2="199.6" stroke="#dcdcdc" stroke-width="0.7"/>
<path d="M534.36,253.26 L535.22,253.33 L536.08,253.39 L536.96,253.44 L537.83,253.46 L538.71,253.47 L539.59,253.46 L540.46,253.43 L541.34,253.39 L542.2,253.33 L543.05,253.26 L543.89,253.16 L544.72,253.05 L545.53,252.93 L546.32,252.79 L547.1,252.63 L547.84,252.46 L548.57,252.27 L549.26,252.08 L549.93,251.86 L550.56,251.64 L551.17,251.4 L551.73,251.15 L552.27,250.89 L552.76,250.62 L553.22,250.34 L553.63,250.06 L554.01,249.76 L554.34,249.46 L554.63,249.15 L554.88,248.84 L555.08,248.52 L555.24,248.2 L555.35,247.87 L555.42,247.55 L555.44,247.22 L555.41,246.9 L555.34,246.57 L555.22,246.25 L555.06,245.92 L554.85,245.61 L554.6,245.29 L554.3,244.99 L553.96,244.68 L553.58,244.39 L553.16,244.1 L552.7,243.82 L552.2,243.55 L551.66,243.3 L551.08,243.05 L550.48,242.81 L549.84,242.59 L549.17,242.37 L548.47,242.17 L547.74,241.99 L546.99,241.82 L546.22,241.66 L545.42,241.52 L544.61,241.4 L543.78,241.29 L542.94,241.2 L542.08,241.12 L541.22,241.06 L540.34,241.02 L539.47,240.99 L538.59,240.98 L537.71,240.99 L536.84,241.02 L535.96,241.06 L535.1,241.12 L534.25,241.2 L533.41,241.29 L532.58,241.4 L531.77,241.53 L530.98,241.67 L530.2,241.82 L529.46,241.99 L528.73,242.18 L528.04,242.38 L527.37,242.59 L526.74,242.82 L526.13,243.05 L525.57,243.3 L525.03,243.56 L524.54,243.83 L524.08,244.11 L523.67,244.4 L523.29,244.69 L522.96,244.99 L522.67,245.3 L522.42,245.62 L522.22,245.93 L522.06,246.25 L521.95,246.58 L521.88,246.9 L521.86,247.23 L521.89,247.56 L521.96,247.88 L522.08,248.21 L522.24,248.53 L522.45,248.85 L522.7,249.16 L523,249.47 L523.34,249.77 L523.72,250.06 L524.14,250.35 L524.6,250.63 L525.1,250.9 L525.64,251.16 L526.22,251.41 L526.82,251.64 L527.46,251.87 L528.13,252.08 L528.83,252.28 L529.56,252.46 L530.31,252.63 L531.08,252.79 L531.88,252.93 L532.69,253.06 L533.52,253.16 L534.36,253.26 M530.18,255.5 L531.87,255.65 L533.58,255.77 L535.3,255.85 L537.03,255.9 L538.77,255.92 L540.5,255.9 L542.23,255.85 L543.96,255.76 L545.66,255.65 L547.35,255.5 L549.01,255.31 L550.64,255.1 L552.25,254.85 L553.81,254.57 L555.33,254.26 L556.81,253.92 L558.24,253.56 L559.61,253.16 L560.93,252.74 L562.18,252.3 L563.37,251.83 L564.49,251.34 L565.55,250.83 L566.52,250.3 L567.43,249.75 L568.25,249.18 L568.99,248.59 L569.65,248 L570.22,247.39 L570.71,246.77 L571.11,246.14 L571.42,245.51 L571.64,244.87 L571.77,244.22 L571.81,243.58 L571.76,242.93 L571.62,242.29 L571.38,241.65 L571.06,241.02 L570.65,240.39 L570.15,239.77 L569.56,239.16 L568.89,238.56 L568.14,237.98 L567.31,237.41 L566.39,236.86 L565.41,236.33 L564.34,235.82 L563.21,235.33 L562.01,234.86 L560.75,234.42 L559.43,234 L558.04,233.61 L556.61,233.24 L555.13,232.9 L553.6,232.6 L552.03,232.32 L550.42,232.07 L548.78,231.86 L547.12,231.67 L545.43,231.52 L543.72,231.41 L542,231.32 L540.27,231.27 L538.53,231.26 L536.8,231.27 L535.07,231.33 L533.34,231.41 L531.64,231.53 L529.95,231.68 L528.29,231.86 L526.66,232.08 L525.05,232.33 L523.49,232.6 L521.97,232.91 L520.49,233.25 L519.06,233.62 L517.69,234.01 L516.37,234.43 L515.12,234.87 L513.93,235.34 L512.81,235.83 L511.75,236.35 L510.78,236.88 L509.87,237.43 L509.05,238 L508.31,238.58 L507.65,239.18 L507.08,239.79 L506.59,240.4 L506.19,241.03 L505.88,241.67 L505.66,242.31 L505.53,242.95 L505.49,243.6 L505.54,244.24 L505.68,244.89 L505.92,245.53 L506.24,246.16 L506.65,246.79 L507.15,247.41 L507.74,248.01 L508.41,248.61 L509.16,249.19 L509.99,249.76 L510.91,250.31 L511.89,250.84 L512.96,251.35 L514.09,251.84 L515.29,252.31 L516.55,252.76 L517.87,253.18 L519.26,253.57 L520.69,253.93 L522.17,254.27 L523.7,254.58 L525.27,254.86 L526.88,255.1 L528.52,255.32 L530.18,255.5 M526.21,255.12 L528.69,255.34 L531.2,255.52 L533.73,255.64 L536.28,255.71 L538.83,255.74 L541.37,255.71 L543.92,255.64 L546.44,255.51 L548.95,255.34 L551.43,255.12 L553.87,254.85 L556.27,254.53 L558.62,254.17 L560.92,253.76 L563.16,253.3 L565.33,252.81 L567.43,252.27 L569.44,251.69 L571.38,251.08 L573.22,250.42 L574.97,249.73 L576.62,249.01 L578.17,248.26 L579.6,247.48 L580.93,246.67 L582.14,245.83 L583.23,244.98 L584.19,244.1 L585.04,243.21 L585.75,242.3 L586.34,241.38 L586.79,240.44 L587.12,239.5 L587.31,238.56 L587.37,237.61 L587.29,236.66 L587.08,235.72 L586.74,234.77 L586.27,233.84 L585.66,232.92 L584.93,232.01 L584.07,231.12 L583.08,230.24 L581.98,229.39 L580.75,228.55 L579.41,227.74 L577.96,226.96 L576.4,226.21 L574.74,225.49 L572.97,224.8 L571.12,224.15 L569.17,223.54 L567.14,222.96 L565.04,222.42 L562.86,221.93 L560.61,221.47 L558.3,221.07 L555.94,220.7 L553.54,220.39 L551.09,220.12 L548.61,219.9 L546.1,219.73 L543.57,219.6 L541.02,219.53 L538.47,219.51 L535.93,219.53 L533.38,219.61 L530.86,219.73 L528.35,219.9 L525.87,220.13 L523.43,220.4 L521.03,220.71 L518.68,221.08 L516.38,221.49 L514.14,221.94 L511.97,222.44 L509.87,222.97 L507.86,223.55 L505.92,224.17 L504.08,224.82 L502.33,225.51 L500.68,226.23 L499.13,226.98 L497.7,227.77 L496.37,228.58 L495.16,229.41 L494.07,230.27 L493.11,231.14 L492.26,232.04 L491.55,232.95 L490.96,233.87 L490.51,234.8 L490.18,235.74 L489.99,236.69 L489.93,237.63 L490.01,238.58 L490.22,239.53 L490.56,240.47 L491.03,241.4 L491.64,242.32 L492.37,243.23 L493.23,244.13 L494.22,245 L495.32,245.86 L496.55,246.69 L497.89,247.5 L499.34,248.28 L500.9,249.03 L502.56,249.75 L504.33,250.44 L506.18,251.09 L508.13,251.71 L510.16,252.28 L512.26,252.82 L514.44,253.32 L516.69,253.77 L519,254.18 L521.36,254.54 L523.76,254.85 L526.21,255.12 M522.54,252.13 L525.76,252.42 L529.01,252.64 L532.28,252.8 L535.58,252.9 L538.88,252.93 L542.18,252.9 L545.47,252.8 L548.74,252.64 L551.99,252.41 L555.19,252.13 L558.36,251.78 L561.47,251.37 L564.51,250.9 L567.49,250.37 L570.38,249.78 L573.19,249.14 L575.91,248.44 L578.52,247.69 L581.02,246.89 L583.41,246.05 L585.67,245.16 L587.81,244.22 L589.81,243.25 L591.67,242.24 L593.39,241.19 L594.95,240.11 L596.36,239 L597.62,237.87 L598.71,236.71 L599.63,235.53 L600.39,234.34 L600.98,233.13 L601.4,231.91 L601.65,230.69 L601.72,229.46 L601.62,228.23 L601.35,227.01 L600.91,225.79 L600.3,224.58 L599.52,223.39 L598.57,222.21 L597.45,221.06 L596.18,219.92 L594.75,218.81 L593.16,217.73 L591.42,216.69 L589.54,215.68 L587.52,214.7 L585.37,213.77 L583.09,212.88 L580.69,212.03 L578.17,211.24 L575.54,210.49 L572.81,209.8 L569.99,209.16 L567.08,208.57 L564.1,208.04 L561.04,207.57 L557.92,207.16 L554.76,206.82 L551.54,206.53 L548.29,206.31 L545.02,206.15 L541.72,206.05 L538.42,206.02 L535.12,206.05 L531.83,206.15 L528.56,206.31 L525.31,206.54 L522.11,206.83 L518.94,207.17 L515.83,207.59 L512.79,208.06 L509.81,208.59 L506.92,209.17 L504.11,209.81 L501.39,210.51 L498.78,211.26 L496.28,212.06 L493.89,212.9 L491.63,213.79 L489.49,214.73 L487.49,215.7 L485.63,216.72 L483.91,217.76 L482.35,218.84 L480.94,219.95 L479.68,221.09 L478.59,222.24 L477.67,223.42 L476.91,224.62 L476.32,225.82 L475.9,227.04 L475.65,228.27 L475.58,229.49 L475.68,230.72 L475.95,231.94 L476.39,233.16 L477,234.37 L477.78,235.56 L478.73,236.74 L479.85,237.9 L481.12,239.03 L482.55,240.14 L484.14,241.22 L485.88,242.26 L487.76,243.28 L489.78,244.25 L491.93,245.18 L494.21,246.07 L496.61,246.92 L499.13,247.71 L501.76,248.46 L504.49,249.16 L507.31,249.8 L510.22,250.38 L513.2,250.91 L516.26,251.38 L519.38,251.79 L522.54,252.13 M519.28,246.61 L523.14,246.95 L527.05,247.22 L530.99,247.41 L534.95,247.53 L538.92,247.57 L542.89,247.53 L546.85,247.41 L550.79,247.22 L554.69,246.95 L558.55,246.6 L562.36,246.18 L566.1,245.68 L569.76,245.12 L573.34,244.48 L576.82,243.78 L580.2,243 L583.47,242.17 L586.61,241.27 L589.62,240.31 L592.5,239.29 L595.22,238.22 L597.79,237.09 L600.2,235.92 L602.43,234.7 L604.5,233.44 L606.38,232.14 L608.08,230.81 L609.59,229.44 L610.9,228.05 L612.01,226.63 L612.93,225.2 L613.64,223.75 L614.14,222.28 L614.44,220.81 L614.53,219.33 L614.41,217.85 L614.08,216.38 L613.55,214.92 L612.81,213.47 L611.87,212.03 L610.73,210.61 L609.39,209.22 L607.86,207.86 L606.13,206.52 L604.23,205.23 L602.14,203.97 L599.88,202.75 L597.45,201.58 L594.86,200.46 L592.11,199.39 L589.22,198.37 L586.19,197.41 L583.03,196.51 L579.75,195.68 L576.35,194.91 L572.85,194.2 L569.26,193.57 L565.59,193 L561.84,192.51 L558.02,192.09 L554.16,191.75 L550.25,191.48 L546.31,191.29 L542.35,191.17 L538.38,191.14 L534.41,191.18 L530.45,191.29 L526.51,191.49 L522.61,191.76 L518.75,192.1 L514.94,192.52 L511.2,193.02 L507.54,193.58 L503.96,194.22 L500.48,194.93 L497.1,195.7 L493.83,196.54 L490.69,197.44 L487.68,198.4 L484.8,199.41 L482.08,200.49 L479.51,201.61 L477.1,202.78 L474.87,204 L472.8,205.26 L470.92,206.56 L469.22,207.89 L467.71,209.26 L466.4,210.65 L465.29,212.07 L464.37,213.5 L463.66,214.96 L463.16,216.42 L462.86,217.89 L462.77,219.37 L462.89,220.85 L463.22,222.32 L463.75,223.78 L464.49,225.24 L465.43,226.67 L466.57,228.09 L467.91,229.48 L469.44,230.85 L471.17,232.18 L473.07,233.48 L475.16,234.74 L477.42,235.95 L479.85,237.12 L482.44,238.25 L485.19,239.32 L488.08,240.33 L491.11,241.29 L494.27,242.19 L497.55,243.03 L500.95,243.8 L504.45,244.5 L508.04,245.14 L511.71,245.7 L515.46,246.19 L519.28,246.61 M516.48,238.68 L520.91,239.08 L525.38,239.38 L529.89,239.6 L534.42,239.74 L538.96,239.78 L543.51,239.73 L548.04,239.6 L552.54,239.38 L557,239.07 L561.42,238.67 L565.77,238.19 L570.05,237.63 L574.25,236.98 L578.34,236.25 L582.33,235.44 L586.19,234.56 L589.93,233.6 L593.53,232.57 L596.97,231.47 L600.26,230.31 L603.37,229.08 L606.31,227.79 L609.07,226.45 L611.63,225.06 L613.99,223.62 L616.14,222.13 L618.08,220.61 L619.81,219.04 L621.31,217.45 L622.59,215.83 L623.63,214.19 L624.44,212.52 L625.02,210.85 L625.36,209.16 L625.46,207.47 L625.33,205.78 L624.95,204.1 L624.35,202.42 L623.5,200.76 L622.42,199.12 L621.12,197.5 L619.58,195.91 L617.83,194.35 L615.86,192.82 L613.68,191.34 L611.29,189.9 L608.7,188.5 L605.92,187.16 L602.96,185.88 L599.81,184.65 L596.51,183.49 L593.04,182.39 L589.42,181.37 L585.67,180.41 L581.79,179.53 L577.78,178.72 L573.67,178 L569.47,177.35 L565.18,176.79 L560.82,176.31 L556.39,175.92 L551.92,175.61 L547.41,175.39 L542.88,175.26 L538.34,175.21 L533.79,175.26 L529.26,175.39 L524.76,175.62 L520.3,175.93 L515.88,176.32 L511.53,176.8 L507.25,177.37 L503.05,178.02 L498.96,178.74 L494.97,179.55 L491.11,180.44 L487.37,181.39 L483.77,182.42 L480.33,183.52 L477.04,184.69 L473.93,185.91 L470.99,187.2 L468.23,188.54 L465.67,189.93 L463.31,191.38 L461.16,192.86 L459.22,194.39 L457.49,195.95 L455.99,197.54 L454.71,199.16 L453.67,200.81 L452.86,202.47 L452.28,204.14 L451.94,205.83 L451.84,207.52 L451.97,209.21 L452.35,210.89 L452.95,212.57 L453.8,214.23 L454.88,215.87 L456.18,217.49 L457.72,219.09 L459.47,220.65 L461.44,222.17 L463.62,223.66 L466.01,225.1 L468.6,226.49 L471.38,227.83 L474.34,229.11 L477.49,230.34 L480.79,231.5 L484.26,232.6 L487.88,233.63 L491.63,234.58 L495.51,235.46 L499.52,236.27 L503.63,237 L507.83,237.64 L512.12,238.21 L516.48,238.68 M514.24,228.55 L519.11,228.99 L524.03,229.32 L529,229.57 L533.99,229.71 L538.99,229.76 L544,229.71 L548.99,229.56 L553.95,229.32 L558.87,228.97 L563.73,228.54 L568.52,228.01 L573.24,227.39 L577.85,226.67 L582.36,225.87 L586.75,224.98 L591.01,224.01 L595.13,222.95 L599.09,221.82 L602.88,220.61 L606.5,219.33 L609.93,217.97 L613.17,216.56 L616.2,215.08 L619.02,213.55 L621.62,211.96 L624,210.32 L626.13,208.64 L628.03,206.92 L629.69,205.17 L631.09,203.38 L632.24,201.57 L633.14,199.74 L633.77,197.9 L634.15,196.04 L634.26,194.18 L634.11,192.32 L633.7,190.46 L633.03,188.62 L632.1,186.79 L630.91,184.98 L629.47,183.19 L627.79,181.44 L625.85,179.72 L623.68,178.04 L621.28,176.41 L618.65,174.82 L615.8,173.29 L612.74,171.81 L609.47,170.4 L606.01,169.05 L602.37,167.77 L598.55,166.56 L594.57,165.43 L590.43,164.37 L586.16,163.4 L581.75,162.51 L577.22,161.71 L572.59,161 L567.87,160.38 L563.06,159.86 L558.19,159.42 L553.27,159.08 L548.3,158.84 L543.31,158.7 L538.31,158.65 L533.3,158.7 L528.31,158.85 L523.35,159.09 L518.43,159.43 L513.57,159.87 L508.78,160.4 L504.06,161.02 L499.45,161.73 L494.94,162.54 L490.55,163.43 L486.29,164.4 L482.17,165.46 L478.21,166.59 L474.42,167.8 L470.8,169.08 L467.37,170.43 L464.13,171.85 L461.1,173.33 L458.28,174.86 L455.68,176.45 L453.3,178.09 L451.17,179.77 L449.27,181.49 L447.61,183.24 L446.21,185.03 L445.06,186.84 L444.16,188.67 L443.53,190.51 L443.15,192.37 L443.04,194.23 L443.19,196.09 L443.6,197.95 L444.27,199.79 L445.2,201.62 L446.39,203.43 L447.83,205.21 L449.51,206.97 L451.45,208.69 L453.62,210.37 L456.02,212 L458.65,213.59 L461.5,215.12 L464.56,216.6 L467.83,218.01 L471.29,219.36 L474.93,220.64 L478.75,221.85 L482.73,222.98 L486.87,224.04 L491.14,225.01 L495.55,225.89 L500.08,226.69 L504.71,227.4 L509.43,228.02 L514.24,228.55 M512.59,216.46 L517.79,216.93 L523.05,217.29 L528.35,217.55 L533.68,217.7 L539.02,217.75 L544.36,217.7 L549.68,217.54 L554.98,217.28 L560.23,216.92 L565.42,216.45 L570.54,215.88 L575.57,215.22 L580.49,214.46 L585.31,213.6 L590,212.65 L594.54,211.61 L598.93,210.49 L603.16,209.28 L607.21,207.98 L611.07,206.62 L614.74,205.17 L618.19,203.66 L621.43,202.09 L624.44,200.45 L627.22,198.75 L629.75,197.01 L632.03,195.21 L634.06,193.38 L635.82,191.5 L637.32,189.6 L638.55,187.66 L639.51,185.71 L640.18,183.74 L640.58,181.76 L640.7,179.77 L640.55,177.79 L640.11,175.81 L639.39,173.84 L638.4,171.88 L637.13,169.95 L635.6,168.05 L633.79,166.18 L631.73,164.34 L629.41,162.55 L626.85,160.8 L624.04,159.11 L621,157.47 L617.73,155.9 L614.25,154.39 L610.55,152.95 L606.66,151.58 L602.59,150.29 L598.34,149.08 L593.92,147.96 L589.36,146.92 L584.65,145.98 L579.82,145.12 L574.88,144.36 L569.84,143.7 L564.71,143.14 L559.51,142.68 L554.25,142.31 L548.95,142.06 L543.62,141.9 L538.28,141.85 L532.94,141.9 L527.62,142.06 L522.32,142.32 L517.07,142.69 L511.88,143.15 L506.76,143.72 L501.73,144.38 L496.81,145.14 L491.99,146 L487.3,146.95 L482.76,147.99 L478.37,149.12 L474.14,150.33 L470.09,151.62 L466.23,152.99 L462.56,154.43 L459.11,155.94 L455.87,157.52 L452.86,159.15 L450.08,160.85 L447.55,162.6 L445.27,164.39 L443.24,166.23 L441.48,168.1 L439.98,170 L438.75,171.94 L437.79,173.89 L437.12,175.86 L436.72,177.84 L436.6,179.83 L436.75,181.81 L437.19,183.79 L437.91,185.76 L438.9,187.72 L440.17,189.65 L441.7,191.55 L443.51,193.43 L445.57,195.26 L447.89,197.05 L450.45,198.8 L453.26,200.49 L456.3,202.13 L459.57,203.7 L463.05,205.21 L466.75,206.65 L470.64,208.02 L474.71,209.31 L478.96,210.52 L483.38,211.64 L487.94,212.68 L492.65,213.63 L497.48,214.48 L502.42,215.24 L507.46,215.9 L512.59,216.46 M511.59,202.72 L516.99,203.2 L522.45,203.57 L527.95,203.84 L533.48,204 L539.03,204.05 L544.58,204 L550.11,203.83 L555.61,203.56 L561.06,203.19 L566.45,202.7 L571.76,202.12 L576.99,201.43 L582.11,200.63 L587.11,199.74 L591.97,198.76 L596.69,197.68 L601.26,196.51 L605.65,195.25 L609.85,193.91 L613.86,192.49 L617.67,190.99 L621.26,189.42 L624.62,187.78 L627.74,186.08 L630.63,184.32 L633.26,182.51 L635.63,180.65 L637.73,178.74 L639.57,176.79 L641.12,174.81 L642.4,172.81 L643.39,170.78 L644.09,168.73 L644.51,166.68 L644.64,164.61 L644.47,162.55 L644.01,160.49 L643.27,158.45 L642.24,156.42 L640.93,154.41 L639.33,152.44 L637.46,150.49 L635.32,148.59 L632.91,146.72 L630.25,144.91 L627.33,143.15 L624.17,141.45 L620.78,139.82 L617.16,138.25 L613.32,136.75 L609.28,135.33 L605.05,134 L600.64,132.74 L596.05,131.57 L591.31,130.5 L586.43,129.51 L581.41,128.63 L576.28,127.84 L571.04,127.15 L565.71,126.57 L560.31,126.09 L554.85,125.71 L549.35,125.44 L543.82,125.28 L538.27,125.23 L532.72,125.29 L527.19,125.45 L521.69,125.72 L516.24,126.1 L510.85,126.58 L505.54,127.17 L500.31,127.86 L495.19,128.65 L490.19,129.54 L485.33,130.52 L480.61,131.6 L476.04,132.77 L471.65,134.03 L467.45,135.37 L463.44,136.79 L459.63,138.29 L456.04,139.86 L452.68,141.5 L449.56,143.2 L446.67,144.96 L444.04,146.77 L441.67,148.64 L439.57,150.54 L437.73,152.49 L436.18,154.47 L434.9,156.48 L433.91,158.5 L433.21,160.55 L432.79,162.61 L432.66,164.67 L432.83,166.73 L433.29,168.79 L434.03,170.83 L435.06,172.86 L436.37,174.87 L437.97,176.85 L439.84,178.79 L441.98,180.7 L444.39,182.56 L447.05,184.37 L449.97,186.13 L453.13,187.83 L456.52,189.47 L460.14,191.03 L463.98,192.53 L468.02,193.95 L472.25,195.29 L476.66,196.54 L481.25,197.71 L485.99,198.79 L490.87,199.77 L495.89,200.66 L501.02,201.45 L506.26,202.13 L511.59,202.72 M511.25,187.65 L516.72,188.14 L522.24,188.52 L527.82,188.79 L533.42,188.95 L539.04,189 L544.65,188.95 L550.25,188.78 L555.82,188.51 L561.34,188.12 L566.8,187.64 L572.18,187.04 L577.47,186.34 L582.65,185.54 L587.71,184.64 L592.64,183.64 L597.42,182.55 L602.04,181.36 L606.48,180.09 L610.74,178.73 L614.8,177.3 L618.65,175.78 L622.29,174.19 L625.69,172.53 L628.86,170.81 L631.77,169.03 L634.44,167.19 L636.84,165.3 L638.97,163.37 L640.82,161.4 L642.4,159.4 L643.69,157.37 L644.7,155.31 L645.41,153.24 L645.83,151.16 L645.96,149.07 L645.79,146.98 L645.33,144.9 L644.57,142.83 L643.53,140.78 L642.2,138.75 L640.59,136.74 L638.69,134.77 L636.52,132.84 L634.09,130.96 L631.39,129.12 L628.43,127.34 L625.24,125.62 L621.8,123.97 L618.14,122.38 L614.25,120.86 L610.17,119.43 L605.88,118.07 L601.41,116.8 L596.77,115.62 L591.97,114.53 L587.02,113.53 L581.94,112.64 L576.74,111.84 L571.44,111.14 L566.05,110.55 L560.58,110.06 L555.06,109.68 L549.48,109.41 L543.88,109.25 L538.26,109.2 L532.65,109.25 L527.05,109.42 L521.48,109.69 L515.96,110.08 L510.5,110.56 L505.12,111.16 L499.83,111.86 L494.65,112.66 L489.59,113.56 L484.66,114.56 L479.88,115.65 L475.26,116.84 L470.82,118.11 L466.56,119.47 L462.5,120.9 L458.65,122.42 L455.01,124.01 L451.61,125.67 L448.44,127.39 L445.53,129.17 L442.86,131.01 L440.46,132.9 L438.33,134.83 L436.48,136.8 L434.9,138.8 L433.61,140.83 L432.6,142.89 L431.89,144.96 L431.47,147.04 L431.34,149.13 L431.51,151.22 L431.97,153.3 L432.73,155.37 L433.77,157.42 L435.1,159.45 L436.71,161.46 L438.61,163.43 L440.78,165.36 L443.21,167.24 L445.91,169.08 L448.87,170.86 L452.06,172.58 L455.5,174.23 L459.16,175.82 L463.05,177.34 L467.13,178.77 L471.42,180.13 L475.89,181.4 L480.53,182.58 L485.33,183.67 L490.28,184.67 L495.36,185.56 L500.56,186.36 L505.86,187.06 L511.25,187.65 M511.59,171.63 L516.99,172.11 L522.45,172.49 L527.95,172.76 L533.48,172.92 L539.03,172.97 L544.58,172.91 L550.11,172.75 L555.61,172.48 L561.06,172.1 L566.45,171.62 L571.76,171.03 L576.99,170.34 L582.11,169.55 L587.11,168.66 L591.97,167.68 L596.69,166.6 L601.26,165.43 L605.65,164.17 L609.85,162.83 L613.86,161.41 L617.67,159.91 L621.26,158.34 L624.62,156.7 L627.74,155 L630.63,153.24 L633.26,151.43 L635.63,149.56 L637.73,147.66 L639.57,145.71 L641.12,143.73 L642.4,141.72 L643.39,139.7 L644.09,137.65 L644.51,135.59 L644.64,133.53 L644.47,131.47 L644.01,129.41 L643.27,127.37 L642.24,125.34 L640.93,123.33 L639.33,121.35 L637.46,119.41 L635.32,117.5 L632.91,115.64 L630.25,113.83 L627.33,112.07 L624.17,110.37 L620.78,108.73 L617.16,107.17 L613.32,105.67 L609.28,104.25 L605.05,102.91 L600.64,101.66 L596.05,100.49 L591.31,99.41 L586.43,98.43 L581.41,97.54 L576.28,96.75 L571.04,96.07 L565.71,95.48 L560.31,95 L554.85,94.63 L549.35,94.36 L543.82,94.2 L538.27,94.15 L532.72,94.2 L527.19,94.37 L521.69,94.64 L516.24,95.01 L510.85,95.5 L505.54,96.08 L500.31,96.77 L495.19,97.57 L490.19,98.46 L485.33,99.44 L480.61,100.52 L476.04,101.69 L471.65,102.95 L467.45,104.29 L463.44,105.71 L459.63,107.21 L456.04,108.78 L452.68,110.42 L449.56,112.12 L446.67,113.88 L444.04,115.69 L441.67,117.55 L439.57,119.46 L437.73,121.41 L436.18,123.39 L434.9,125.39 L433.91,127.42 L433.21,129.47 L432.79,131.52 L432.66,133.59 L432.83,135.65 L433.29,137.71 L434.03,139.75 L435.06,141.78 L436.37,143.79 L437.97,145.76 L439.84,147.71 L441.98,149.61 L444.39,151.48 L447.05,153.29 L449.97,155.05 L453.13,156.75 L456.52,158.38 L460.14,159.95 L463.98,161.45 L468.02,162.87 L472.25,164.2 L476.66,165.46 L481.25,166.63 L485.99,167.7 L490.87,168.69 L495.89,169.57 L501.02,170.36 L506.26,171.05 L511.59,171.63 M512.59,155.06 L517.79,155.52 L523.05,155.89 L528.35,156.14 L533.68,156.3 L539.02,156.35 L544.36,156.3 L549.68,156.14 L554.98,155.88 L560.23,155.51 L565.42,155.05 L570.54,154.48 L575.57,153.82 L580.49,153.06 L585.31,152.2 L590,151.25 L594.54,150.21 L598.93,149.08 L603.16,147.87 L607.21,146.58 L611.07,145.21 L614.74,143.77 L618.19,142.26 L621.43,140.68 L624.44,139.05 L627.22,137.35 L629.75,135.6 L632.03,133.81 L634.06,131.97 L635.82,130.1 L637.32,128.2 L638.55,126.26 L639.51,124.31 L640.18,122.34 L640.58,120.36 L640.7,118.37 L640.55,116.39 L640.11,114.41 L639.39,112.44 L638.4,110.48 L637.13,108.55 L635.6,106.65 L633.79,104.77 L631.73,102.94 L629.41,101.15 L626.85,99.4 L624.04,97.71 L621,96.07 L617.73,94.5 L614.25,92.99 L610.55,91.55 L606.66,90.18 L602.59,88.89 L598.34,87.68 L593.92,86.56 L589.36,85.52 L584.65,84.57 L579.82,83.72 L574.88,82.96 L569.84,82.3 L564.71,81.74 L559.51,81.27 L554.25,80.91 L548.95,80.65 L543.62,80.5 L538.28,80.45 L532.94,80.5 L527.62,80.66 L522.32,80.92 L517.07,81.28 L511.88,81.75 L506.76,82.32 L501.73,82.98 L496.81,83.74 L491.99,84.6 L487.3,85.55 L482.76,86.59 L478.37,87.71 L474.14,88.92 L470.09,90.22 L466.23,91.58 L462.56,93.03 L459.11,94.54 L455.87,96.11 L452.86,97.75 L450.08,99.45 L447.55,101.19 L445.27,102.99 L443.24,104.82 L441.48,106.7 L439.98,108.6 L438.75,110.54 L437.79,112.49 L437.12,114.46 L436.72,116.44 L436.6,118.43 L436.75,120.41 L437.19,122.39 L437.91,124.36 L438.9,126.32 L440.17,128.25 L441.7,130.15 L443.51,132.02 L445.57,133.86 L447.89,135.65 L450.45,137.4 L453.26,139.09 L456.3,140.73 L459.57,142.3 L463.05,143.81 L466.75,145.25 L470.64,146.62 L474.71,147.91 L478.96,149.12 L483.38,150.24 L487.94,151.28 L492.65,152.22 L497.48,153.08 L502.42,153.84 L507.46,154.5 L512.59,155.06 M514.24,138.34 L519.11,138.78 L524.03,139.12 L529,139.36 L533.99,139.5 L538.99,139.55 L544,139.5 L548.99,139.35 L553.95,139.11 L558.87,138.77 L563.73,138.33 L568.52,137.8 L573.24,137.18 L577.85,136.47 L582.36,135.66 L586.75,134.77 L591.01,133.8 L595.13,132.74 L599.09,131.61 L602.88,130.4 L606.5,129.12 L609.93,127.77 L613.17,126.35 L616.2,124.87 L619.02,123.34 L621.62,121.75 L624,120.11 L626.13,118.43 L628.03,116.71 L629.69,114.96 L631.09,113.17 L632.24,111.36 L633.14,109.53 L633.77,107.69 L634.15,105.83 L634.26,103.97 L634.11,102.11 L633.7,100.25 L633.03,98.41 L632.1,96.58 L630.91,94.77 L629.47,92.99 L627.79,91.23 L625.85,89.51 L623.68,87.83 L621.28,86.2 L618.65,84.61 L615.8,83.08 L612.74,81.6 L609.47,80.19 L606.01,78.84 L602.37,77.56 L598.55,76.35 L594.57,75.22 L590.43,74.16 L586.16,73.19 L581.75,72.31 L577.22,71.51 L572.59,70.8 L567.87,70.18 L563.06,69.65 L558.19,69.21 L553.27,68.88 L548.3,68.63 L543.31,68.49 L538.31,68.44 L533.3,68.49 L528.31,68.64 L523.35,68.88 L518.43,69.23 L513.57,69.66 L508.78,70.19 L504.06,70.81 L499.45,71.53 L494.94,72.33 L490.55,73.22 L486.29,74.19 L482.17,75.25 L478.21,76.38 L474.42,77.59 L470.8,78.87 L467.37,80.23 L464.13,81.64 L461.1,83.12 L458.28,84.65 L455.68,86.24 L453.3,87.88 L451.17,89.56 L449.27,91.28 L447.61,93.03 L446.21,94.82 L445.06,96.63 L444.16,98.46 L443.53,100.3 L443.15,102.16 L443.04,104.02 L443.19,105.88 L443.6,107.74 L444.27,109.58 L445.2,111.41 L446.39,113.22 L447.83,115.01 L449.51,116.76 L451.45,118.48 L453.62,120.16 L456.02,121.79 L458.65,123.38 L461.5,124.91 L464.56,126.39 L467.83,127.8 L471.29,129.15 L474.93,130.43 L478.75,131.64 L482.73,132.77 L486.87,133.83 L491.14,134.8 L495.55,135.69 L500.08,136.49 L504.71,137.2 L509.43,137.82 L514.24,138.34 M516.48,121.89 L520.91,122.28 L525.38,122.59 L529.89,122.81 L534.42,122.94 L538.96,122.99 L543.51,122.94 L548.04,122.81 L552.54,122.58 L557,122.27 L561.42,121.88 L565.77,121.4 L570.05,120.83 L574.25,120.18 L578.34,119.46 L582.33,118.65 L586.19,117.76 L589.93,116.81 L593.53,115.78 L596.97,114.68 L600.26,113.51 L603.37,112.29 L606.31,111 L609.07,109.66 L611.63,108.27 L613.99,106.82 L616.14,105.34 L618.08,103.81 L619.81,102.25 L621.31,100.66 L622.59,99.04 L623.63,97.39 L624.44,95.73 L625.02,94.06 L625.36,92.37 L625.46,90.68 L625.33,88.99 L624.95,87.31 L624.35,85.63 L623.5,83.97 L622.42,82.33 L621.12,80.71 L619.58,79.11 L617.83,77.55 L615.86,76.03 L613.68,74.54 L611.29,73.1 L608.7,71.71 L605.92,70.37 L602.96,69.09 L599.81,67.86 L596.51,66.7 L593.04,65.6 L589.42,64.57 L585.67,63.62 L581.79,62.74 L577.78,61.93 L573.67,61.2 L569.47,60.56 L565.18,59.99 L560.82,59.52 L556.39,59.12 L551.92,58.82 L547.41,58.6 L542.88,58.46 L538.34,58.42 L533.79,58.47 L529.26,58.6 L524.76,58.82 L520.3,59.13 L515.88,59.53 L511.53,60.01 L507.25,60.57 L503.05,61.22 L498.96,61.95 L494.97,62.76 L491.11,63.64 L487.37,64.6 L483.77,65.63 L480.33,66.73 L477.04,67.89 L473.93,69.12 L470.99,70.41 L468.23,71.75 L465.67,73.14 L463.31,74.58 L461.16,76.07 L459.22,77.59 L457.49,79.16 L455.99,80.75 L454.71,82.37 L453.67,84.01 L452.86,85.68 L452.28,87.35 L451.94,89.04 L451.84,90.73 L451.97,92.42 L452.35,94.1 L452.95,95.78 L453.8,97.44 L454.88,99.08 L456.18,100.7 L457.72,102.29 L459.47,103.85 L461.44,105.38 L463.62,106.86 L466.01,108.3 L468.6,109.7 L471.38,111.04 L474.34,112.32 L477.49,113.55 L480.79,114.71 L484.26,115.81 L487.88,116.83 L491.63,117.79 L495.51,118.67 L499.52,119.48 L503.63,120.2 L507.83,120.85 L512.12,121.41 L516.48,121.89 M519.28,106.11 L523.14,106.45 L527.05,106.72 L530.99,106.91 L534.95,107.03 L538.92,107.06 L542.89,107.02 L546.85,106.91 L550.79,106.71 L554.69,106.44 L558.55,106.1 L562.36,105.68 L566.1,105.18 L569.76,104.62 L573.34,103.98 L576.82,103.27 L580.2,102.5 L583.47,101.66 L586.61,100.76 L589.62,99.8 L592.5,98.79 L595.22,97.71 L597.79,96.59 L600.2,95.42 L602.43,94.2 L604.5,92.94 L606.38,91.64 L608.08,90.31 L609.59,88.94 L610.9,87.55 L612.01,86.13 L612.93,84.7 L613.64,83.24 L614.14,81.78 L614.44,80.31 L614.53,78.83 L614.41,77.35 L614.08,75.88 L613.55,74.42 L612.81,72.96 L611.87,71.53 L610.73,70.11 L609.39,68.72 L607.86,67.35 L606.13,66.02 L604.23,64.72 L602.14,63.46 L599.88,62.25 L597.45,61.08 L594.86,59.95 L592.11,58.88 L589.22,57.87 L586.19,56.91 L583.03,56.01 L579.75,55.17 L576.35,54.4 L572.85,53.7 L569.26,53.06 L565.59,52.5 L561.84,52.01 L558.02,51.59 L554.16,51.25 L550.25,50.98 L546.31,50.79 L542.35,50.67 L538.38,50.63 L534.41,50.67 L530.45,50.79 L526.51,50.98 L522.61,51.25 L518.75,51.6 L514.94,52.02 L511.2,52.52 L507.54,53.08 L503.96,53.72 L500.48,54.42 L497.1,55.2 L493.83,56.03 L490.69,56.93 L487.68,57.89 L484.8,58.91 L482.08,59.98 L479.51,61.11 L477.1,62.28 L474.87,63.5 L472.8,64.76 L470.92,66.06 L469.22,67.39 L467.71,68.76 L466.4,70.15 L465.29,71.57 L464.37,73 L463.66,74.45 L463.16,75.92 L462.86,77.39 L462.77,78.87 L462.89,80.35 L463.22,81.82 L463.75,83.28 L464.49,84.73 L465.43,86.17 L466.57,87.59 L467.91,88.98 L469.44,90.34 L471.17,91.68 L473.07,92.97 L475.16,94.23 L477.42,95.45 L479.85,96.62 L482.44,97.74 L485.19,98.81 L488.08,99.83 L491.11,100.79 L494.27,101.69 L497.55,102.52 L500.95,103.29 L504.45,104 L508.04,104.63 L511.71,105.2 L515.46,105.69 L519.28,106.11 M522.54,91.38 L525.76,91.67 L529.01,91.89 L532.28,92.05 L535.58,92.15 L538.88,92.18 L542.18,92.15 L545.47,92.05 L548.74,91.89 L551.99,91.66 L555.19,91.37 L558.36,91.03 L561.47,90.61 L564.51,90.14 L567.49,89.61 L570.38,89.03 L573.19,88.39 L575.91,87.69 L578.52,86.94 L581.02,86.14 L583.41,85.3 L585.67,84.41 L587.81,83.47 L589.81,82.5 L591.67,81.48 L593.39,80.44 L594.95,79.36 L596.36,78.25 L597.62,77.11 L598.71,75.96 L599.63,74.78 L600.39,73.58 L600.98,72.38 L601.4,71.16 L601.65,69.93 L601.72,68.71 L601.62,67.48 L601.35,66.26 L600.91,65.04 L600.3,63.83 L599.52,62.64 L598.57,61.46 L597.45,60.3 L596.18,59.17 L594.75,58.06 L593.16,56.98 L591.42,55.94 L589.54,54.92 L587.52,53.95 L585.37,53.02 L583.09,52.13 L580.69,51.28 L578.17,50.49 L575.54,49.74 L572.81,49.04 L569.99,48.4 L567.08,47.82 L564.1,47.29 L561.04,46.82 L557.92,46.41 L554.76,46.07 L551.54,45.78 L548.29,45.56 L545.02,45.4 L541.72,45.3 L538.42,45.27 L535.12,45.3 L531.83,45.4 L528.56,45.56 L525.31,45.79 L522.11,46.07 L518.94,46.42 L515.83,46.83 L512.79,47.3 L509.81,47.83 L506.92,48.42 L504.11,49.06 L501.39,49.76 L498.78,50.51 L496.28,51.31 L493.89,52.15 L491.63,53.04 L489.49,53.98 L487.49,54.95 L485.63,55.96 L483.91,57.01 L482.35,58.09 L480.94,59.2 L479.68,60.33 L478.59,61.49 L477.67,62.67 L476.91,63.86 L476.32,65.07 L475.9,66.29 L475.65,67.51 L475.58,68.74 L475.68,69.97 L475.95,71.19 L476.39,72.41 L477,73.62 L477.78,74.81 L478.73,75.99 L479.85,77.14 L481.12,78.28 L482.55,79.39 L484.14,80.47 L485.88,81.51 L487.76,82.52 L489.78,83.5 L491.93,84.43 L494.21,85.32 L496.61,86.17 L499.13,86.96 L501.76,87.71 L504.49,88.4 L507.31,89.04 L510.22,89.63 L513.2,90.16 L516.26,90.63 L519.38,91.04 L522.54,91.38 M526.21,78.08 L528.69,78.3 L531.2,78.47 L533.73,78.6 L536.28,78.67 L538.83,78.69 L541.37,78.67 L543.92,78.59 L546.44,78.47 L548.95,78.3 L551.43,78.07 L553.87,77.8 L556.27,77.49 L558.62,77.12 L560.92,76.71 L563.16,76.26 L565.33,75.76 L567.43,75.23 L569.44,74.65 L571.38,74.03 L573.22,73.38 L574.97,72.69 L576.62,71.97 L578.17,71.22 L579.6,70.43 L580.93,69.62 L582.14,68.79 L583.23,67.93 L584.19,67.06 L585.04,66.16 L585.75,65.25 L586.34,64.33 L586.79,63.4 L587.12,62.46 L587.31,61.51 L587.37,60.57 L587.29,59.62 L587.08,58.67 L586.74,57.73 L586.27,56.8 L585.66,55.88 L584.93,54.97 L584.07,54.07 L583.08,53.2 L581.98,52.34 L580.75,51.51 L579.41,50.7 L577.96,49.92 L576.4,49.17 L574.74,48.45 L572.97,47.76 L571.12,47.11 L569.17,46.49 L567.14,45.92 L565.04,45.38 L562.86,44.88 L560.61,44.43 L558.3,44.02 L555.94,43.66 L553.54,43.35 L551.09,43.08 L548.61,42.86 L546.1,42.68 L543.57,42.56 L541.02,42.49 L538.47,42.46 L535.93,42.49 L533.38,42.56 L530.86,42.69 L528.35,42.86 L525.87,43.08 L523.43,43.35 L521.03,43.67 L518.68,44.03 L516.38,44.44 L514.14,44.9 L511.97,45.39 L509.87,45.93 L507.86,46.51 L505.92,47.12 L504.08,47.78 L502.33,48.47 L500.68,49.19 L499.13,49.94 L497.7,50.72 L496.37,51.53 L495.16,52.37 L494.07,53.22 L493.11,54.1 L492.26,54.99 L491.55,55.9 L490.96,56.82 L490.51,57.76 L490.18,58.7 L489.99,59.64 L489.93,60.59 L490.01,61.54 L490.22,62.48 L490.56,63.43 L491.03,64.36 L491.64,65.28 L492.37,66.19 L493.23,67.08 L494.22,67.96 L495.32,68.81 L496.55,69.65 L497.89,70.46 L499.34,71.24 L500.9,71.99 L502.56,72.71 L504.33,73.4 L506.18,74.05 L508.13,74.66 L510.16,75.24 L512.26,75.78 L514.44,76.27 L516.69,76.73 L519,77.13 L521.36,77.5 L523.76,77.81 L526.21,78.08 M530.18,66.53 L531.87,66.68 L533.58,66.79 L535.3,66.88 L537.03,66.93 L538.77,66.94 L540.5,66.93 L542.23,66.87 L543.96,66.79 L545.66,66.67 L547.35,66.52 L549.01,66.34 L550.64,66.12 L552.25,65.87 L553.81,65.6 L555.33,65.29 L556.81,64.95 L558.24,64.58 L559.61,64.19 L560.93,63.77 L562.18,63.33 L563.37,62.86 L564.49,62.37 L565.55,61.85 L566.52,61.32 L567.43,60.77 L568.25,60.2 L568.99,59.62 L569.65,59.02 L570.22,58.41 L570.71,57.8 L571.11,57.17 L571.42,56.53 L571.64,55.89 L571.77,55.25 L571.81,54.6 L571.76,53.96 L571.62,53.31 L571.38,52.67 L571.06,52.04 L570.65,51.41 L570.15,50.79 L569.56,50.19 L568.89,49.59 L568.14,49.01 L567.31,48.44 L566.39,47.89 L565.41,47.36 L564.34,46.85 L563.21,46.36 L562.01,45.89 L560.75,45.44 L559.43,45.02 L558.04,44.63 L556.61,44.27 L555.13,43.93 L553.6,43.62 L552.03,43.34 L550.42,43.1 L548.78,42.88 L547.12,42.7 L545.43,42.55 L543.72,42.43 L542,42.35 L540.27,42.3 L538.53,42.28 L536.8,42.3 L535.07,42.35 L533.34,42.44 L531.64,42.55 L529.95,42.7 L528.29,42.89 L526.66,43.1 L525.05,43.35 L523.49,43.63 L521.97,43.94 L520.49,44.28 L519.06,44.64 L517.69,45.04 L516.37,45.46 L515.12,45.9 L513.93,46.37 L512.81,46.86 L511.75,47.37 L510.78,47.9 L509.87,48.45 L509.05,49.02 L508.31,49.61 L507.65,50.2 L507.08,50.81 L506.59,51.43 L506.19,52.06 L505.88,52.69 L505.66,53.33 L505.53,53.98 L505.49,54.62 L505.54,55.27 L505.68,55.91 L505.92,56.55 L506.24,57.18 L506.65,57.81 L507.15,58.43 L507.74,59.04 L508.41,59.64 L509.16,60.22 L509.99,60.79 L510.91,61.34 L511.89,61.87 L512.96,62.38 L514.09,62.87 L515.29,63.34 L516.55,63.78 L517.87,64.2 L519.26,64.59 L520.69,64.96 L522.17,65.3 L523.7,65.6 L525.27,65.88 L526.88,66.13 L528.52,66.34 L530.18,66.53 M534.36,57 L535.22,57.08 L536.08,57.14 L536.96,57.18 L537.83,57.21 L538.71,57.22 L539.59,57.21 L540.46,57.18 L541.34,57.14 L542.2,57.08 L543.05,57 L543.89,56.91 L544.72,56.8 L545.53,56.67 L546.32,56.53 L547.1,56.38 L547.84,56.21 L548.57,56.02 L549.26,55.82 L549.93,55.61 L550.56,55.38 L551.17,55.15 L551.73,54.9 L552.27,54.64 L552.76,54.37 L553.22,54.09 L553.63,53.8 L554.01,53.51 L554.34,53.21 L554.63,52.9 L554.88,52.58 L555.08,52.27 L555.24,51.95 L555.35,51.62 L555.42,51.3 L555.44,50.97 L555.41,50.64 L555.34,50.32 L555.22,49.99 L555.06,49.67 L554.85,49.35 L554.6,49.04 L554.3,48.73 L553.96,48.43 L553.58,48.14 L553.16,47.85 L552.7,47.57 L552.2,47.3 L551.66,47.04 L551.08,46.79 L550.48,46.56 L549.84,46.33 L549.17,46.12 L548.47,45.92 L547.74,45.74 L546.99,45.57 L546.22,45.41 L545.42,45.27 L544.61,45.14 L543.78,45.04 L542.94,44.94 L542.08,44.87 L541.22,44.81 L540.34,44.76 L539.47,44.74 L538.59,44.73 L537.71,44.74 L536.84,44.77 L535.96,44.81 L535.1,44.87 L534.25,44.94 L533.41,45.04 L532.58,45.15 L531.77,45.27 L530.98,45.41 L530.2,45.57 L529.46,45.74 L528.73,45.93 L528.04,46.12 L527.37,46.34 L526.74,46.56 L526.13,46.8 L525.57,47.05 L525.03,47.31 L524.54,47.58 L524.08,47.86 L523.67,48.14 L523.29,48.44 L522.96,48.74 L522.67,49.05 L522.42,49.36 L522.22,49.68 L522.06,50 L521.95,50.33 L521.88,50.65 L521.86,50.98 L521.89,51.3 L521.96,51.63 L522.08,51.95 L522.24,52.28 L522.45,52.59 L522.7,52.91 L523,53.21 L523.34,53.52 L523.72,53.81 L524.14,54.1 L524.6,54.38 L525.1,54.65 L525.64,54.9 L526.22,55.15 L526.82,55.39 L527.46,55.61 L528.13,55.83 L528.83,56.03 L529.56,56.21 L530.31,56.38 L531.08,56.54 L531.88,56.68 L532.69,56.8 L533.52,56.91 L534.36,57 M538.65,248.45 L537.22,250.33 L535.79,251.94 L534.36,253.26 L532.95,254.29 L531.56,255.04 L530.18,255.5 L528.83,255.67 L527.51,255.54 L526.21,255.12 L524.95,254.41 L523.73,253.42 L522.54,252.13 L521.41,250.57 L520.32,248.73 L519.28,246.61 L518.29,244.23 L517.36,241.58 L516.48,238.68 L515.67,235.54 L514.92,232.16 L514.24,228.55 L513.62,224.73 L513.07,220.69 L512.59,216.46 L512.18,212.05 L511.85,207.46 L511.59,202.72 L511.4,197.82 L511.29,192.8 L511.25,187.65 L511.29,182.4 L511.4,177.05 L511.59,171.63 L511.85,166.15 L512.18,160.62 L512.59,155.06 L513.07,149.49 L513.62,143.91 L514.24,138.34 L514.92,132.81 L515.67,127.32 L516.48,121.89 L517.36,116.54 L518.29,111.27 L519.28,106.11 L520.32,101.06 L521.41,96.15 L522.54,91.38 L523.73,86.77 L524.95,82.34 L526.21,78.08 L527.51,74.02 L528.83,70.16 L530.18,66.53 L531.56,63.11 L532.95,59.94 L534.36,57 L535.79,54.32 L537.22,51.9 L538.65,49.75 M538.65,248.45 L538.96,250.4 L539.28,252.07 L539.59,253.46 L539.9,254.56 L540.2,255.38 L540.5,255.9 L540.8,256.13 L541.09,256.07 L541.37,255.71 L541.65,255.06 L541.92,254.12 L542.18,252.9 L542.43,251.39 L542.67,249.59 L542.89,247.53 L543.11,245.19 L543.31,242.59 L543.51,239.73 L543.68,236.63 L543.85,233.28 L544,229.71 L544.13,225.91 L544.25,221.9 L544.36,217.7 L544.45,213.3 L544.52,208.73 L544.58,204 L544.62,199.11 L544.64,194.09 L544.65,188.95 L544.64,183.69 L544.62,178.34 L544.58,172.91 L544.52,167.42 L544.45,161.87 L544.36,156.3 L544.25,150.7 L544.13,145.09 L544,139.5 L543.85,133.93 L543.68,128.41 L543.51,122.94 L543.31,117.54 L543.11,112.23 L542.89,107.02 L542.67,101.93 L542.43,96.97 L542.18,92.15 L541.92,87.48 L541.65,82.98 L541.37,78.67 L541.09,74.55 L540.8,70.63 L540.5,66.93 L540.2,63.45 L539.9,60.21 L539.59,57.21 L539.28,54.46 L538.96,51.97 L538.65,49.75 M538.65,248.45 L540.68,250.26 L542.71,251.8 L544.72,253.05 L546.72,254.02 L548.7,254.7 L550.64,255.1 L552.56,255.2 L554.44,255.01 L556.27,254.53 L558.06,253.76 L559.79,252.71 L561.47,251.37 L563.08,249.75 L564.62,247.85 L566.1,245.68 L567.5,243.25 L568.82,240.57 L570.05,237.63 L571.2,234.44 L572.27,231.03 L573.24,227.39 L574.11,223.53 L574.89,219.47 L575.57,215.22 L576.14,210.79 L576.62,206.18 L576.99,201.43 L577.25,196.52 L577.41,191.49 L577.47,186.34 L577.41,181.09 L577.25,175.75 L576.99,170.34 L576.62,164.87 L576.14,159.36 L575.57,153.82 L574.89,148.26 L574.11,142.71 L573.24,137.18 L572.27,131.68 L571.2,126.22 L570.05,120.83 L568.82,115.52 L567.5,110.3 L566.1,105.18 L564.62,100.19 L563.08,95.33 L561.47,90.61 L559.79,86.06 L558.06,81.68 L556.27,77.49 L554.44,73.49 L552.56,69.7 L550.64,66.12 L548.7,62.77 L546.72,59.66 L544.72,56.8 L542.71,54.19 L540.68,51.84 L538.65,49.75 M538.65,248.45 L542.2,249.94 L545.74,251.15 L549.26,252.08 L552.75,252.72 L556.21,253.09 L559.61,253.16 L562.96,252.96 L566.24,252.47 L569.44,251.69 L572.57,250.64 L575.59,249.3 L578.52,247.69 L581.34,245.81 L584.04,243.67 L586.61,241.27 L589.06,238.61 L591.36,235.71 L593.53,232.57 L595.54,229.2 L597.39,225.61 L599.09,221.82 L600.62,217.82 L601.97,213.64 L603.16,209.28 L604.17,204.75 L605,200.07 L605.65,195.25 L606.11,190.31 L606.39,185.25 L606.48,180.09 L606.39,174.85 L606.11,169.54 L605.65,164.17 L605,158.76 L604.17,153.32 L603.16,147.87 L601.97,142.43 L600.62,137 L599.09,131.61 L597.39,126.26 L595.54,120.98 L593.53,115.78 L591.36,110.66 L589.06,105.65 L586.61,100.76 L584.04,96.01 L581.34,91.39 L578.52,86.94 L575.59,82.66 L572.57,78.56 L569.44,74.65 L566.24,70.94 L562.96,67.46 L559.61,64.19 L556.21,61.16 L552.75,58.36 L549.26,55.82 L545.74,53.53 L542.2,51.51 L538.65,49.75 M538.65,248.45 L543.37,249.45 L548.08,250.17 L552.76,250.62 L557.4,250.79 L562,250.68 L566.52,250.3 L570.98,249.63 L575.34,248.69 L579.6,247.48 L583.75,245.99 L587.78,244.25 L591.67,242.24 L595.42,239.97 L599.01,237.46 L602.43,234.7 L605.69,231.71 L608.75,228.49 L611.63,225.06 L614.3,221.42 L616.77,217.58 L619.02,213.55 L621.06,209.34 L622.86,204.97 L624.44,200.45 L625.78,195.78 L626.88,190.99 L627.74,186.08 L628.36,181.07 L628.73,175.98 L628.86,170.81 L628.73,165.58 L628.36,160.3 L627.74,155 L626.88,149.68 L625.78,144.36 L624.44,139.05 L622.86,133.76 L621.06,128.52 L619.02,123.34 L616.77,118.23 L614.3,113.2 L611.63,108.27 L608.75,103.45 L605.69,98.75 L602.43,94.2 L599.01,89.79 L595.42,85.55 L591.67,81.48 L587.78,77.6 L583.75,73.91 L579.6,70.43 L575.34,67.17 L570.98,64.13 L566.52,61.32 L562,58.75 L557.4,56.43 L552.76,54.37 L548.08,52.56 L543.37,51.02 L538.65,49.75 M538.65,248.45 L544.08,248.85 L549.49,248.98 L554.88,248.84 L560.22,248.42 L565.5,247.73 L570.71,246.77 L575.83,245.54 L580.85,244.05 L585.75,242.3 L590.52,240.29 L595.16,238.03 L599.63,235.53 L603.94,232.79 L608.07,229.82 L612.01,226.63 L615.75,223.23 L619.28,219.63 L622.59,215.83 L625.66,211.85 L628.5,207.7 L631.09,203.38 L633.43,198.92 L635.51,194.32 L637.32,189.6 L638.86,184.76 L640.13,179.83 L641.12,174.81 L641.83,169.73 L642.26,164.59 L642.4,159.4 L642.26,154.19 L641.83,148.96 L641.12,143.73 L640.13,138.52 L638.86,133.34 L637.32,128.2 L635.51,123.11 L633.43,118.1 L631.09,113.17 L628.5,108.35 L625.66,103.63 L622.59,99.04 L619.28,94.58 L615.75,90.28 L612.01,86.13 L608.07,82.16 L603.94,78.37 L599.63,74.78 L595.16,71.39 L590.52,68.21 L585.75,65.25 L580.85,62.53 L575.83,60.04 L570.71,57.8 L565.5,55.8 L560.22,54.06 L554.88,52.58 L549.49,51.37 L544.08,50.43 L538.65,49.75 M538.65,248.45 L544.26,248.2 L549.85,247.68 L555.41,246.9 L560.93,245.84 L566.38,244.52 L571.76,242.93 L577.05,241.09 L582.23,239 L587.29,236.66 L592.22,234.08 L597,231.27 L601.62,228.23 L606.07,224.98 L610.34,221.52 L614.41,217.85 L618.27,214.01 L621.91,209.98 L625.33,205.78 L628.5,201.43 L631.44,196.94 L634.11,192.32 L636.53,187.58 L638.67,182.73 L640.55,177.79 L642.14,172.77 L643.45,167.69 L644.47,162.55 L645.2,157.38 L645.64,152.19 L645.79,146.98 L645.64,141.79 L645.2,136.61 L644.47,131.47 L643.45,126.37 L642.14,121.34 L640.55,116.39 L638.67,111.52 L636.53,106.76 L634.11,102.11 L631.44,97.59 L628.5,93.21 L625.33,88.99 L621.91,84.93 L618.27,81.05 L614.41,77.35 L610.34,73.85 L606.07,70.56 L601.62,67.48 L597,64.63 L592.22,62 L587.29,59.62 L582.23,57.48 L577.05,55.59 L571.76,53.96 L566.38,52.59 L560.93,51.48 L555.41,50.64 L549.85,50.07 L544.26,49.78 L538.65,49.75 M538.65,248.45 L543.89,247.56 L549.11,246.41 L554.3,244.99 L559.45,243.3 L564.54,241.36 L569.56,239.16 L574.5,236.72 L579.34,234.03 L584.07,231.12 L588.67,227.98 L593.14,224.62 L597.45,221.06 L601.61,217.29 L605.59,213.35 L609.39,209.22 L612.99,204.93 L616.4,200.49 L619.58,195.91 L622.55,191.19 L625.29,186.37 L627.79,181.44 L630.04,176.42 L632.05,171.33 L633.79,166.18 L635.28,160.98 L636.5,155.74 L637.46,150.49 L638.14,145.24 L638.55,139.99 L638.69,134.77 L638.55,129.59 L638.14,124.47 L637.46,119.41 L636.5,114.43 L635.28,109.55 L633.79,104.77 L632.05,100.12 L630.04,95.6 L627.79,91.23 L625.29,87.02 L622.55,82.98 L619.58,79.11 L616.4,75.44 L612.99,71.98 L609.39,68.72 L605.59,65.68 L601.61,62.87 L597.45,60.3 L593.14,57.98 L588.67,55.9 L584.07,54.07 L579.34,52.51 L574.5,51.21 L569.56,50.19 L564.54,49.43 L559.45,48.94 L554.3,48.73 L549.11,48.8 L543.89,49.14 L538.65,49.75 M538.65,248.45 L543,247 L547.34,245.28 L551.66,243.3 L555.94,241.05 L560.17,238.56 L564.34,235.82 L568.45,232.84 L572.47,229.64 L576.4,226.21 L580.22,222.57 L583.94,218.73 L587.52,214.7 L590.98,210.49 L594.29,206.11 L597.45,201.58 L600.44,196.9 L603.27,192.09 L605.92,187.16 L608.39,182.13 L610.66,177.01 L612.74,171.81 L614.61,166.55 L616.28,161.24 L617.73,155.9 L618.97,150.54 L619.98,145.17 L620.78,139.82 L621.34,134.49 L621.69,129.2 L621.8,123.97 L621.69,118.8 L621.34,113.72 L620.78,108.73 L619.98,103.86 L618.97,99.11 L617.73,94.5 L616.28,90.03 L614.61,85.73 L612.74,81.6 L610.66,77.66 L608.39,73.91 L605.92,70.37 L603.27,67.04 L600.44,63.94 L597.45,61.08 L594.29,58.45 L590.98,56.07 L587.52,53.95 L583.94,52.09 L580.22,50.49 L576.4,49.17 L572.47,48.12 L568.45,47.34 L564.34,46.85 L560.17,46.63 L555.94,46.7 L551.66,47.04 L547.34,47.67 L543,48.57 L538.65,49.75 M538.65,248.45 L541.69,246.56 L544.73,244.41 L547.74,241.99 L550.73,239.32 L553.69,236.4 L556.61,233.24 L559.48,229.85 L562.29,226.24 L565.04,222.42 L567.71,218.4 L570.3,214.19 L572.81,209.8 L575.23,205.24 L577.54,200.53 L579.75,195.68 L581.84,190.7 L583.82,185.6 L585.67,180.41 L587.39,175.13 L588.98,169.78 L590.43,164.37 L591.74,158.92 L592.91,153.45 L593.92,147.96 L594.79,142.47 L595.5,137.01 L596.05,131.57 L596.45,126.19 L596.69,120.87 L596.77,115.62 L596.69,110.47 L596.45,105.42 L596.05,100.49 L595.5,95.7 L594.79,91.05 L593.92,86.56 L592.91,82.24 L591.74,78.1 L590.43,74.16 L588.98,70.43 L587.39,66.91 L585.67,63.62 L583.82,60.56 L581.84,57.74 L579.75,55.17 L577.54,52.87 L575.23,50.82 L572.81,49.04 L570.3,47.54 L567.71,46.32 L565.04,45.38 L562.29,44.72 L559.48,44.35 L556.61,44.27 L553.69,44.47 L550.73,44.96 L547.74,45.74 L544.73,46.79 L541.69,48.13 L538.65,49.75 M538.65,248.45 L540.08,246.3 L541.51,243.88 L542.94,241.2 L544.35,238.26 L545.74,235.09 L547.12,231.67 L548.47,228.04 L549.79,224.18 L551.09,220.12 L552.35,215.86 L553.57,211.43 L554.76,206.82 L555.89,202.05 L556.98,197.14 L558.02,192.09 L559.01,186.93 L559.94,181.66 L560.82,176.31 L561.63,170.88 L562.38,165.39 L563.06,159.86 L563.68,154.29 L564.23,148.71 L564.71,143.14 L565.12,137.58 L565.45,132.05 L565.71,126.57 L565.9,121.15 L566.01,115.8 L566.05,110.55 L566.01,105.4 L565.9,100.38 L565.71,95.48 L565.45,90.74 L565.12,86.15 L564.71,81.74 L564.23,77.51 L563.68,73.47 L563.06,69.65 L562.38,66.04 L561.63,62.66 L560.82,59.52 L559.94,56.62 L559.01,53.97 L558.02,51.59 L556.98,49.47 L555.89,47.63 L554.76,46.07 L553.57,44.78 L552.35,43.79 L551.09,43.08 L549.79,42.66 L548.47,42.53 L547.12,42.7 L545.74,43.16 L544.35,43.91 L542.94,44.94 L541.51,46.26 L540.08,47.87 L538.65,49.75 M538.65,248.45 L538.34,246.23 L538.02,243.74 L537.71,240.99 L537.4,237.99 L537.1,234.75 L536.8,231.27 L536.5,227.57 L536.21,223.65 L535.93,219.53 L535.65,215.22 L535.38,210.72 L535.12,206.05 L534.87,201.23 L534.63,196.27 L534.41,191.18 L534.19,185.97 L533.99,180.66 L533.79,175.26 L533.62,169.79 L533.45,164.27 L533.3,158.7 L533.17,153.11 L533.05,147.5 L532.94,141.9 L532.85,136.33 L532.78,130.78 L532.72,125.29 L532.68,119.86 L532.66,114.51 L532.65,109.25 L532.66,104.11 L532.68,99.09 L532.72,94.2 L532.78,89.47 L532.85,84.9 L532.94,80.5 L533.05,76.3 L533.17,72.29 L533.3,68.49 L533.45,64.92 L533.62,61.57 L533.79,58.47 L533.99,55.61 L534.19,53.01 L534.41,50.67 L534.63,48.61 L534.87,46.81 L535.12,45.3 L535.38,44.08 L535.65,43.14 L535.93,42.49 L536.21,42.13 L536.5,42.07 L536.8,42.3 L537.1,42.82 L537.4,43.64 L537.71,44.74 L538.02,46.13 L538.34,47.8 L538.65,49.75 M538.65,248.45 L536.62,246.36 L534.59,244.01 L532.58,241.4 L530.58,238.54 L528.6,235.43 L526.66,232.08 L524.74,228.5 L522.86,224.71 L521.03,220.71 L519.24,216.52 L517.51,212.14 L515.83,207.59 L514.22,202.87 L512.68,198.01 L511.2,193.02 L509.8,187.9 L508.48,182.68 L507.25,177.37 L506.1,171.98 L505.03,166.52 L504.06,161.02 L503.19,155.49 L502.41,149.94 L501.73,144.38 L501.16,138.84 L500.68,133.33 L500.31,127.86 L500.05,122.45 L499.89,117.11 L499.83,111.86 L499.89,106.71 L500.05,101.68 L500.31,96.77 L500.68,92.02 L501.16,87.41 L501.73,82.98 L502.41,78.73 L503.19,74.67 L504.06,70.81 L505.03,67.17 L506.1,63.76 L507.25,60.57 L508.48,57.63 L509.8,54.95 L511.2,52.52 L512.68,50.35 L514.22,48.45 L515.83,46.83 L517.51,45.49 L519.24,44.44 L521.03,43.67 L522.86,43.19 L524.74,43 L526.66,43.1 L528.6,43.5 L530.58,44.18 L532.58,45.15 L534.59,46.4 L536.62,47.94 L538.65,49.75 M538.65,248.45 L535.1,246.69 L531.56,244.67 L528.04,242.38 L524.55,239.84 L521.09,237.04 L517.69,234.01 L514.34,230.74 L511.06,227.26 L507.86,223.55 L504.73,219.64 L501.71,215.54 L498.78,211.26 L495.96,206.81 L493.26,202.19 L490.69,197.44 L488.24,192.55 L485.94,187.54 L483.77,182.42 L481.76,177.22 L479.91,171.94 L478.21,166.59 L476.68,161.2 L475.33,155.77 L474.14,150.33 L473.13,144.88 L472.3,139.44 L471.65,134.03 L471.19,128.66 L470.91,123.35 L470.82,118.11 L470.91,112.95 L471.19,107.89 L471.65,102.95 L472.3,98.13 L473.13,93.45 L474.14,88.92 L475.33,84.56 L476.68,80.38 L478.21,76.38 L479.91,72.59 L481.76,69 L483.77,65.63 L485.94,62.49 L488.24,59.59 L490.69,56.93 L493.26,54.53 L495.96,52.39 L498.78,50.51 L501.71,48.9 L504.73,47.56 L507.86,46.51 L511.06,45.73 L514.34,45.24 L517.69,45.04 L521.09,45.11 L524.55,45.48 L528.04,46.12 L531.56,47.05 L535.1,48.26 L538.65,49.75 M538.65,248.45 L533.93,247.18 L529.22,245.64 L524.54,243.83 L519.9,241.77 L515.3,239.45 L510.78,236.88 L506.32,234.07 L501.96,231.03 L497.7,227.77 L493.55,224.29 L489.52,220.6 L485.63,216.72 L481.88,212.65 L478.29,208.41 L474.87,204 L471.61,199.45 L468.55,194.75 L465.67,189.93 L463,185 L460.53,179.97 L458.28,174.86 L456.24,169.68 L454.44,164.44 L452.86,159.15 L451.52,153.84 L450.42,148.52 L449.56,143.2 L448.94,137.9 L448.57,132.62 L448.44,127.39 L448.57,122.22 L448.94,117.13 L449.56,112.12 L450.42,107.21 L451.52,102.42 L452.86,97.75 L454.44,93.23 L456.24,88.86 L458.28,84.65 L460.53,80.62 L463,76.78 L465.67,73.14 L468.55,69.71 L471.61,66.49 L474.87,63.5 L478.29,60.74 L481.88,58.23 L485.63,55.96 L489.52,53.95 L493.55,52.21 L497.7,50.72 L501.96,49.51 L506.32,48.57 L510.78,47.9 L515.3,47.52 L519.9,47.41 L524.54,47.58 L529.22,48.03 L533.93,48.75 L538.65,49.75 M538.65,248.45 L533.22,247.77 L527.81,246.83 L522.42,245.62 L517.08,244.14 L511.8,242.4 L506.59,240.4 L501.47,238.16 L496.45,235.67 L491.55,232.95 L486.77,229.99 L482.14,226.81 L477.67,223.42 L473.36,219.83 L469.23,216.04 L465.29,212.07 L461.55,207.92 L458.02,203.62 L454.71,199.16 L451.64,194.57 L448.8,189.85 L446.21,185.03 L443.87,180.1 L441.79,175.09 L439.98,170 L438.44,164.86 L437.17,159.68 L436.18,154.47 L435.47,149.24 L435.04,144.01 L434.9,138.8 L435.04,133.61 L435.47,128.47 L436.18,123.39 L437.17,118.37 L438.44,113.44 L439.98,108.6 L441.79,103.88 L443.87,99.28 L446.21,94.82 L448.8,90.5 L451.64,86.35 L454.71,82.37 L458.02,78.57 L461.55,74.97 L465.29,71.57 L469.23,68.38 L473.36,65.41 L477.67,62.67 L482.14,60.17 L486.77,57.91 L491.55,55.9 L496.45,54.15 L501.47,52.66 L506.59,51.43 L511.8,50.47 L517.08,49.78 L522.42,49.36 L527.81,49.22 L533.22,49.35 L538.65,49.75 M538.65,248.45 L533.04,248.42 L527.45,248.13 L521.89,247.56 L516.37,246.72 L510.92,245.61 L505.54,244.24 L500.25,242.61 L495.07,240.72 L490.01,238.58 L485.08,236.2 L480.3,233.57 L475.68,230.72 L471.23,227.64 L466.96,224.35 L462.89,220.85 L459.03,217.15 L455.39,213.27 L451.97,209.21 L448.8,204.99 L445.86,200.61 L443.19,196.09 L440.77,191.44 L438.63,186.68 L436.75,181.81 L435.16,176.86 L433.85,171.83 L432.83,166.73 L432.1,161.59 L431.66,156.41 L431.51,151.22 L431.66,146.01 L432.1,140.82 L432.83,135.65 L433.85,130.51 L435.16,125.43 L436.75,120.41 L438.63,115.47 L440.77,110.62 L443.19,105.88 L445.86,101.26 L448.8,96.77 L451.97,92.42 L455.39,88.22 L459.03,84.19 L462.89,80.35 L466.96,76.68 L471.23,73.22 L475.68,69.97 L480.3,66.93 L485.08,64.12 L490.01,61.54 L495.07,59.2 L500.25,57.11 L505.54,55.27 L510.92,53.68 L516.37,52.36 L521.89,51.3 L527.45,50.52 L533.04,50 L538.65,49.75 M538.65,248.45 L533.41,249.06 L528.19,249.4 L523,249.47 L517.85,249.26 L512.76,248.77 L507.74,248.01 L502.8,246.99 L497.96,245.69 L493.23,244.13 L488.63,242.3 L484.16,240.22 L479.85,237.9 L475.69,235.33 L471.71,232.52 L467.91,229.48 L464.31,226.22 L460.9,222.76 L457.72,219.09 L454.75,215.22 L452.01,211.18 L449.51,206.97 L447.26,202.6 L445.25,198.08 L443.51,193.43 L442.02,188.65 L440.8,183.77 L439.84,178.79 L439.16,173.73 L438.75,168.61 L438.61,163.43 L438.75,158.21 L439.16,152.96 L439.84,147.71 L440.8,142.46 L442.02,137.22 L443.51,132.02 L445.25,126.87 L447.26,121.78 L449.51,116.76 L452.01,111.83 L454.75,107.01 L457.72,102.29 L460.9,97.71 L464.31,93.27 L467.91,88.98 L471.71,84.85 L475.69,80.91 L479.85,77.14 L484.16,73.58 L488.63,70.22 L493.23,67.08 L497.96,64.17 L502.8,61.48 L507.74,59.04 L512.76,56.84 L517.85,54.9 L523,53.21 L528.19,51.79 L533.41,50.64 L538.65,49.75 M538.65,248.45 L534.3,249.63 L529.96,250.53 L525.64,251.16 L521.36,251.5 L517.13,251.57 L512.96,251.35 L508.85,250.86 L504.83,250.08 L500.9,249.03 L497.08,247.71 L493.36,246.11 L489.78,244.25 L486.32,242.13 L483.01,239.75 L479.85,237.12 L476.86,234.26 L474.03,231.16 L471.38,227.83 L468.91,224.29 L466.64,220.54 L464.56,216.6 L462.69,212.47 L461.02,208.17 L459.57,203.7 L458.33,199.09 L457.32,194.34 L456.52,189.47 L455.96,184.48 L455.61,179.4 L455.5,174.23 L455.61,169 L455.96,163.71 L456.52,158.38 L457.32,153.03 L458.33,147.66 L459.57,142.3 L461.02,136.96 L462.69,131.65 L464.56,126.39 L466.64,121.19 L468.91,116.07 L471.38,111.04 L474.03,106.11 L476.86,101.3 L479.85,96.62 L483.01,92.09 L486.32,87.71 L489.78,83.5 L493.36,79.47 L497.08,75.63 L500.9,71.99 L504.83,68.56 L508.85,65.36 L512.96,62.38 L517.13,59.64 L521.36,57.15 L525.64,54.9 L529.96,52.92 L534.3,51.2 L538.65,49.75 M538.65,248.45 L535.61,250.07 L532.57,251.41 L529.56,252.46 L526.57,253.24 L523.61,253.73 L520.69,253.93 L517.82,253.85 L515.01,253.48 L512.26,252.82 L509.59,251.88 L507,250.66 L504.49,249.16 L502.07,247.38 L499.76,245.33 L497.55,243.03 L495.46,240.46 L493.48,237.64 L491.63,234.58 L489.91,231.29 L488.32,227.77 L486.87,224.04 L485.56,220.1 L484.39,215.96 L483.38,211.64 L482.51,207.15 L481.8,202.5 L481.25,197.71 L480.85,192.78 L480.61,187.73 L480.53,182.58 L480.61,177.33 L480.85,172.01 L481.25,166.63 L481.8,161.19 L482.51,155.73 L483.38,150.24 L484.39,144.75 L485.56,139.28 L486.87,133.83 L488.32,128.42 L489.91,123.07 L491.63,117.79 L493.48,112.6 L495.46,107.5 L497.55,102.52 L499.76,97.67 L502.07,92.96 L504.49,88.4 L507,84.01 L509.59,79.8 L512.26,75.78 L515.01,71.96 L517.82,68.35 L520.69,64.96 L523.61,61.8 L526.57,58.88 L529.56,56.21 L532.57,53.79 L535.61,51.64 L538.65,49.75" stroke="#d6d6d6" stroke-width="0.7" fill="none"/>
<line x1="407.5" y1="276.7" x2="407.5" y2="78" stroke="#3a3a3a" stroke-width="0.8"/>
<line x1="407.5" y1="276.7" x2="615" y2="297.3" stroke="#3a3a3a" stroke-width="0.8"/>
<line x1="615" y1="297.3" x2="669.8" y2="220.2" stroke="#3a3a3a" stroke-width="0.8"/>
<line x1="407.5" y1="78" x2="402.5" y2="78" stroke="#3a3a3a" stroke-width="0.8"/>
<line x1="407.5" y1="127.67" x2="402.5" y2="127.67" stroke="#3a3a3a" stroke-width="0.8"/>
<line x1="407.5" y1="177.35" x2="402.5" y2="177.35" stroke="#3a3a3a" stroke-width="0.8"/>
<line x1="407.5" y1="227.02" x2="402.5" y2="227.02" stroke="#3a3a3a" stroke-width="0.8"/>
<line x1="407.5" y1="276.7" x2="402.5" y2="276.7" stroke="#3a3a3a" stroke-width="0.8"/>
<line x1="407.5" y1="276.7" x2="404.6" y2="280.78" stroke="#3a3a3a" stroke-width="0.8"/>
<line x1="459.38" y1="281.85" x2="456.48" y2="285.93" stroke="#3a3a3a" stroke-width="0.8"/>
<line x1="511.25" y1="287" x2="508.35" y2="291.08" stroke="#3a3a3a" stroke-width="0.8"/>
<line x1="563.12" y1="292.15" x2="560.23" y2="296.23" stroke="#3a3a3a" stroke-width="0.8"/>
<line x1="615" y1="297.3" x2="612.1" y2="301.38" stroke="#3a3a3a" stroke-width="0.8"/>
<line x1="615" y1="297.3" x2="619.98" y2="297.79" stroke="#3a3a3a" stroke-width="0.8"/>
<line x1="642.4" y1="258.75" x2="647.38" y2="259.24" stroke="#3a3a3a" stroke-width="0.8"/>
<line x1="669.8" y1="220.2" x2="674.78" y2="220.69" stroke="#3a3a3a" stroke-width="0.8"/>
<path d="M491.4,184.8 L491,184.75 L490.42,184.66 L489.72,184.56 L488.97,184.45 L488.24,184.37 L487.61,184.34 L487.14,184.37 L486.9,184.5 L486.89,184.71 L487.06,184.97 L487.36,185.29 L487.76,185.67 L488.24,186.1 L488.76,186.58 L489.29,187.11 L489.8,187.7 L490.32,188.36 L490.88,189.11 L491.49,189.93 L492.12,190.79 L492.77,191.68 L493.43,192.58 L494.07,193.46 L494.7,194.3 L495.32,195.13 L495.94,195.97 L496.57,196.82 L497.2,197.66 L497.82,198.48 L498.43,199.29 L499.03,200.06 L499.6,200.8 L500.16,201.5 L500.73,202.18 L501.28,202.82 L501.83,203.45 L502.34,204.05 L502.83,204.62 L503.29,205.18 L503.7,205.7 L504.07,206.19 L504.4,206.64 L504.7,207.06 L504.97,207.46 L505.21,207.84 L505.43,208.22 L505.62,208.6 L505.8,209 L505.94,209.41 L506.04,209.81 L506.1,210.22 L506.15,210.62 L506.19,211.03 L506.24,211.42 L506.3,211.82 L506.4,212.2 L506.52,212.59 L506.65,213 L506.78,213.41 L506.93,213.81 L507.09,214.19 L507.27,214.54 L507.48,214.84 L507.7,215.1 L507.95,215.31 L508.22,215.48 L508.52,215.62 L508.83,215.73 L509.16,215.8 L509.5,215.84 L509.85,215.84 L510.2,215.8 L510.58,215.71 L511,215.56 L511.45,215.37 L511.9,215.15 L512.34,214.91 L512.75,214.66 L513.11,214.42 L513.4,214.2 L513.65,213.98 L513.87,213.76 L514.06,213.52 L514.21,213.29 L514.31,213.06 L514.37,212.85 L514.37,212.66 L514.3,212.5 L514.15,212.37 L513.93,212.27 L513.64,212.19 L513.31,212.12 L512.94,212.07 L512.55,212.02 L512.17,211.96 L511.8,211.9 L511.42,211.84 L511.01,211.79 L510.59,211.75 L510.15,211.71 L509.72,211.66 L509.31,211.6 L508.93,211.51 L508.6,211.4 L508.3,211.27 L508.03,211.14 L507.78,210.99 L507.55,210.82 L507.35,210.63 L507.17,210.4 L507.02,210.13 L506.9,209.8 L506.82,209.41 L506.77,208.97 L506.75,208.48 L506.76,207.96 L506.79,207.41 L506.82,206.84 L506.86,206.27 L506.9,205.7 L506.93,205.13 L506.97,204.55 L507.02,203.96 L507.07,203.35 L507.14,202.73 L507.21,202.1 L507.3,201.46 L507.4,200.8 L507.51,200.13 L507.62,199.45 L507.75,198.76 L507.88,198.05 L508.03,197.33 L508.2,196.6 L508.39,195.86 L508.6,195.1 L508.84,194.32 L509.09,193.51 L509.37,192.69 L509.67,191.86 L509.98,191.02 L510.31,190.19 L510.65,189.38 L511,188.6 L511.36,187.85 L511.75,187.12 L512.14,186.4 L512.55,185.7 L512.97,185 L513.4,184.28 L513.85,183.55 L514.3,182.8 L514.77,182.01 L515.25,181.19 L515.74,180.34 L516.25,179.49 L516.76,178.65 L517.28,177.83 L517.79,177.04 L518.3,176.3 L518.81,175.59 L519.32,174.9 L519.83,174.24 L520.34,173.59 L520.86,172.98 L521.37,172.41 L521.89,171.88 L522.4,171.4 L522.92,170.96 L523.44,170.56 L523.97,170.19 L524.5,169.86 L525.02,169.58 L525.53,169.34 L526.03,169.14 L526.5,169 L526.95,168.91 L527.4,168.88 L527.82,168.9 L528.24,168.96 L528.64,169.06 L529.04,169.19 L529.42,169.34 L529.8,169.5 L530.18,169.68 L530.55,169.89 L530.92,170.13 L531.27,170.39 L531.62,170.68 L531.94,171 L532.23,171.34 L532.5,171.7 L532.74,172.1 L532.97,172.53 L533.18,172.99 L533.37,173.48 L533.53,173.98 L533.66,174.49 L533.75,175 L533.8,175.5 L533.81,176 L533.78,176.52 L533.71,177.04 L533.61,177.56 L533.49,178.09 L533.34,178.6 L533.18,179.11 L533,179.6 L532.8,180.08 L532.56,180.55 L532.3,181.02 L532.02,181.47 L531.73,181.92 L531.44,182.36 L531.16,182.79 L530.9,183.2 L530.63,183.6 L530.33,183.98 L530.02,184.36 L529.72,184.72 L529.45,185.07 L529.22,185.42 L529.07,185.76 L529,186.1 L529.01,186.44 L529.08,186.79 L529.2,187.14 L529.37,187.48 L529.6,187.8 L529.89,188.1 L530.22,188.37 L530.6,188.6 L531.09,188.79 L531.71,188.94 L532.41,189.06 L533.15,189.16 L533.88,189.23 L534.54,189.3 L535.1,189.35 L535.5,189.4" stroke="#0072bd" stroke-width="2" fill="none" stroke-linejoin="round" stroke-linecap="round"/>
<g filter="url(#nf)">
<text x="27" y="44.4" font-size="13" text-anchor="middle">60</text>
<text x="27.2" y="72" font-size="13" text-anchor="middle">40</text>
<text x="27.2" y="100.8" font-size="13" text-anchor="middle">20</text>
<text x="29.8" y="128.2" font-size="13" text-anchor="middle">0</text>
<text x="24.5" y="157" font-size="13" text-anchor="middle">-20</text>
<text x="24.5" y="184.3" font-size="13" text-anchor="middle">-40</text>
<text x="24.5" y="212.5" font-size="13" text-anchor="middle">-60</text>
<text x="9.9" y="124.2" font-size="13.5" text-anchor="middle" transform="rotate(-90 9.9 124.2)">Z(mm)</text>
<text x="88.9" y="262.8" font-size="13" text-anchor="middle">50</text>
<text x="147.3" y="276.7" font-size="13" text-anchor="middle">0</text>
<text x="205.4" y="290.9" font-size="13" text-anchor="middle">-50</text>
<text x="263.8" y="304.9" font-size="13" text-anchor="middle">-100</text>
<text x="161" y="311.5" font-size="13.5" text-anchor="middle">Y(mm)</text>
<text x="299.6" y="305.1" font-size="13" text-anchor="middle">0</text>
<text x="320.4" y="298.3" font-size="13" text-anchor="middle">20</text>
<text x="314.8" y="320.2" font-size="13.5" text-anchor="middle">X(mm)</text>
<text x="163.5" y="363.4" font-size="24.5" text-anchor="middle" font-weight="bold" style="fill:#000">(a)</text>
<text x="542.3" y="363.4" font-size="24.5" text-anchor="middle" font-weight="bold" style="fill:#000">(b)</text>
<text x="394.7" y="82.4" font-size="12.4" text-anchor="middle">1</text>
<text x="389.7" y="132.3" font-size="12.4" text-anchor="middle">0.5</text>
<text x="394.1" y="181.7" font-size="12.4" text-anchor="middle">0</text>
<text x="387" y="230.6" font-size="12.4" text-anchor="middle">-0.5</text>
<text x="392.5" y="280.4" font-size="12.4" text-anchor="middle">-1</text>
<text x="370.5" y="178.3" font-size="13.5" text-anchor="middle" transform="rotate(-90 370.5 178.3)">k</text>
<text x="401.5" y="296.6" font-size="12.4" text-anchor="middle">1</text>
<text x="453.6" y="302.8" font-size="12.4" text-anchor="middle">0.5</text>
<text x="505" y="307.6" font-size="12.4" text-anchor="middle">0</text>
<text x="557.2" y="312.1" font-size="12.4" text-anchor="middle">-0.5</text>
<text x="609" y="317.4" font-size="12.4" text-anchor="middle">-1</text>
<text x="520.9" y="324.9" font-size="13.5" text-anchor="middle">j</text>
<text x="630.2" y="310.1" font-size="12.4" text-anchor="middle">-1</text>
<text x="655.4" y="271.3" font-size="12.4" text-anchor="middle">0</text>
<text x="682.4" y="232.8" font-size="12.4" text-anchor="middle">1</text>
<text x="672" y="272.7" font-size="13.5" text-anchor="middle">i</text>
</g>
</svg>
</body></html>
